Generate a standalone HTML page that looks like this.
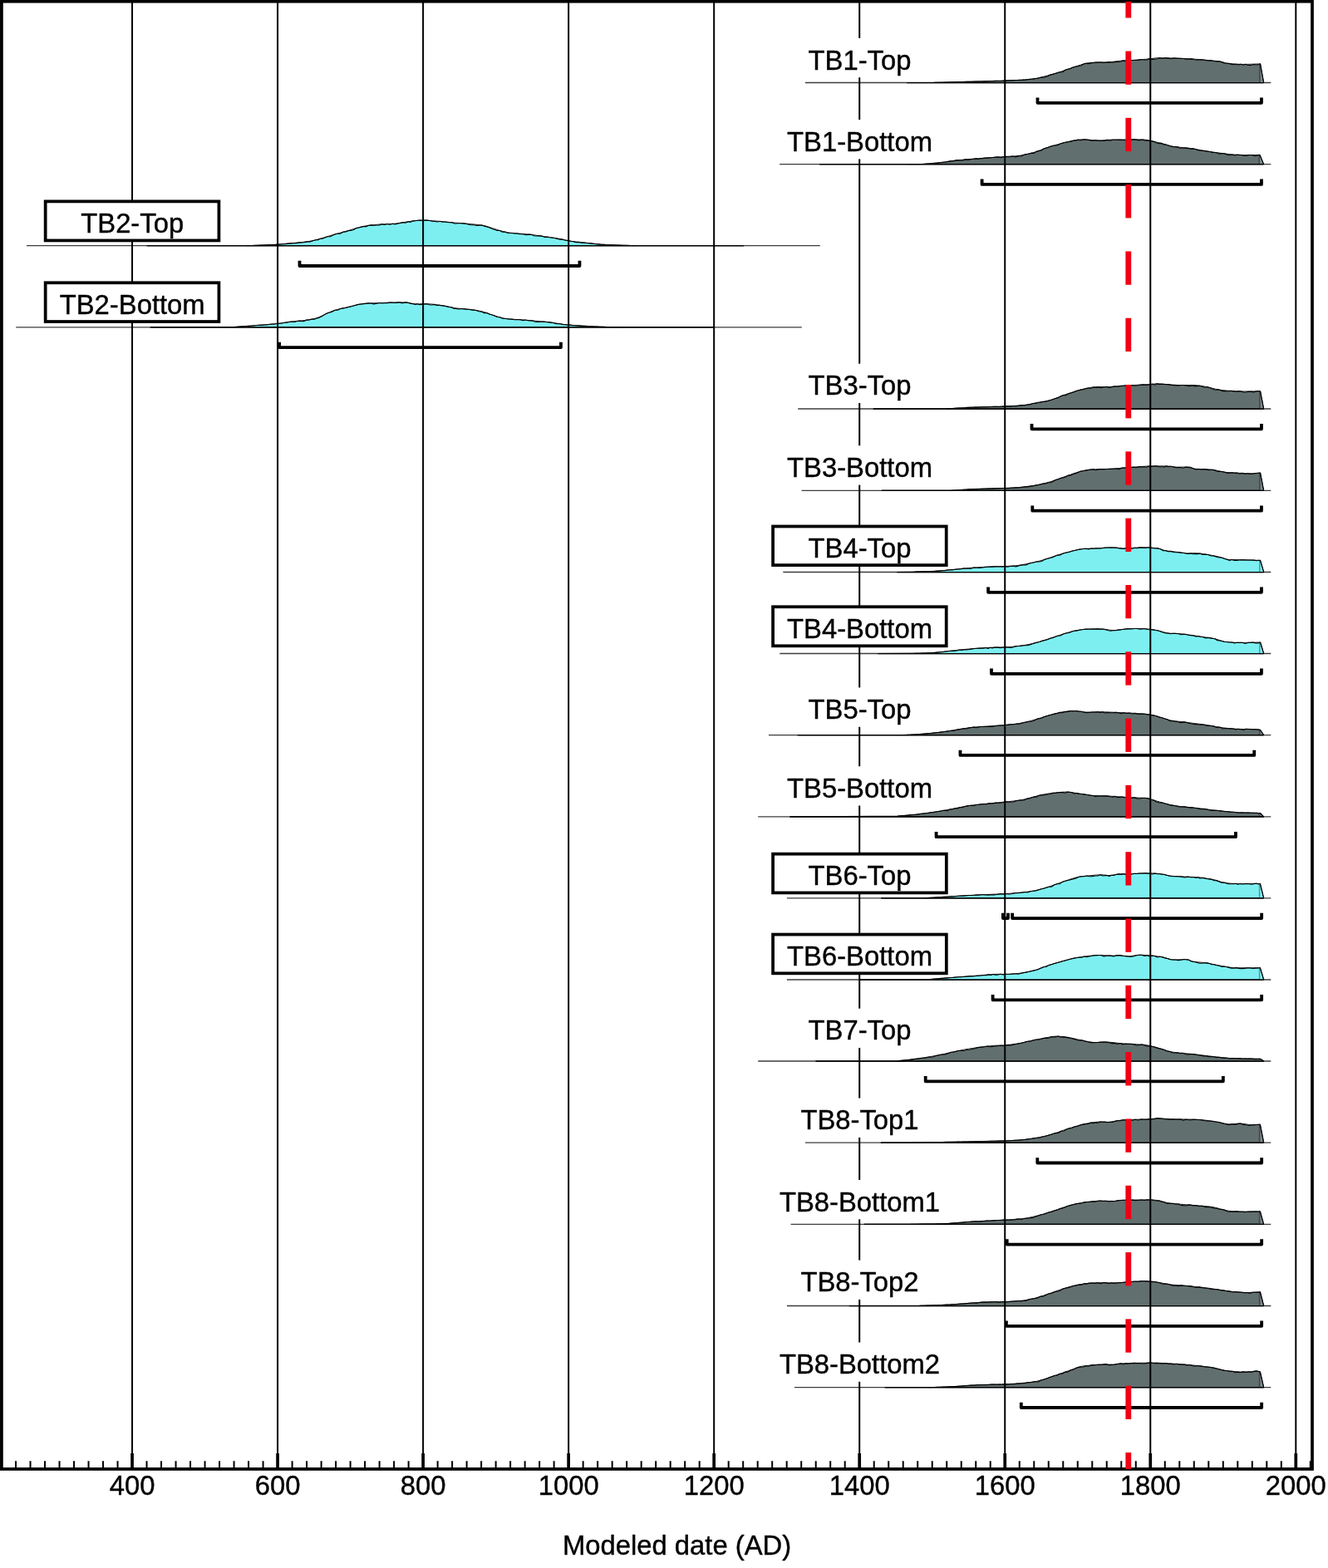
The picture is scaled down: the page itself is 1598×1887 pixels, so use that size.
<!DOCTYPE html>
<html lang="en"><head><meta charset="utf-8"><title>Modeled date (AD)</title>
<style>html,body{margin:0;padding:0;background:#fff}body{width:1598px;height:1887px;overflow:hidden}svg{display:block}text{font-family:'Liberation Sans', sans-serif;font-size:32.8px;fill:#000;stroke:#000;stroke-width:0.4px;stroke-linejoin:round}</style>
</head><body>
<svg width="1598" height="1887" viewBox="0 0 1598 1887">
<rect width="1598" height="1887" fill="#fff"/>
<g id="baselines" stroke="#3c3c3c" stroke-width="1.3" fill="none">
<path d="M968.9 99.5 H1529.3"/>
<path d="M938.1 197.6 H1529.3"/>
<path d="M32 295.7 H986.8"/>
<path d="M19.25 393.8 H964.8"/>
<path d="M960.2 492 H1529.3"/>
<path d="M964.6 590.4 H1529.3"/>
<path d="M942.3 688.5 H1529.3"/>
<path d="M938.3 786.5 H1529.3"/>
<path d="M925 884.65 H1529.3"/>
<path d="M912.2 982.9 H1529.3"/>
<path d="M946.9 1080.8 H1529.3"/>
<path d="M946.9 1179 H1529.3"/>
<path d="M912.2 1277 H1529.3"/>
<path d="M968.9 1375.2 H1529.3"/>
<path d="M951.6 1473.3 H1529.3"/>
<path d="M946.9 1571.5 H1529.3"/>
<path d="M955.9 1669.7 H1529.3"/>
</g>
<g id="curves" stroke="#000" stroke-width="1.1" stroke-linejoin="round">
<path d="M1091.5 99.5 L1122 99.5 L1123.38 99.46 L1125.09 99.41 L1127.1 99.36 L1129.39 99.3 L1131.95 99.23 L1134.73 99.19 L1137.73 99.05 L1140.92 99 L1144.27 98.88 L1147.76 98.8 L1151.37 98.67 L1155.07 98.63 L1158.84 98.46 L1162.66 98.38 L1166.5 98.24 L1170.34 98.33 L1174.15 98.07 L1177.92 97.96 L1181.62 97.94 L1185.22 97.75 L1188.7 97.84 L1192.05 97.5 L1195.22 97.64 L1198.21 97.39 L1200.99 97.47 L1203.53 97.49 L1205.81 97.46 L1207.81 97.04 L1209.5 97.17 L1214.55 96.8 L1218.68 96.66 L1222.06 96.51 L1224.84 96.43 L1227.18 96.26 L1229.21 96.53 L1231.1 96.05 L1233 96.21 L1236.13 95.79 L1239.25 95.35 L1242.36 95.03 L1245.48 94.6 L1248.6 94.32 L1250.88 93.46 L1253.72 93.11 L1256.91 92.83 L1260.3 91.91 L1263.68 90.1 L1266.88 89.36 L1269.71 88.58 L1272 87.7 L1275.19 86.73 L1278.45 86.72 L1281.69 84.31 L1284.8 83.22 L1287.7 82.75 L1290.4 81.3 L1293.69 80.29 L1297.26 79.81 L1300.79 78.92 L1303.98 77.05 L1306.5 76.25 L1309.68 76.64 L1312.91 75.84 L1316.05 75.47 L1319 75.14 L1321.67 75.06 L1324.92 74.96 L1328.41 75.57 L1331.79 75.03 L1334.7 74.65 L1337.66 75.32 L1341.17 74.67 L1344.83 74.46 L1348.24 74.21 L1351 72.88 L1353.96 73.67 L1357.05 73.3 L1360.24 72.68 L1363.5 72.44 L1365.79 72.55 L1368.74 72.38 L1372.08 71.7 L1375.52 71.7 L1378.81 72.3 L1381.66 71.17 L1383.8 70.9 L1387.07 71.37 L1389.79 71.11 L1393.2 70.75 L1395.39 69.58 L1398.25 70.56 L1401.56 69.7 L1405.11 69.88 L1408.68 70.82 L1412.05 69.92 L1415 70.02 L1417.57 70.18 L1420.54 70.26 L1423.78 70.49 L1427.18 71.17 L1430.61 71.17 L1433.97 70.86 L1437.14 71.77 L1440 72.31 L1442.69 71.86 L1445.91 71.72 L1449.47 72.31 L1453.21 73.01 L1456.95 72.76 L1460.5 73.54 L1463.69 73.88 L1466.35 73.74 L1468.3 73.93 L1472.29 75.66 L1474.5 76.07 L1476.67 76.26 L1479.49 76.61 L1482.44 77.39 L1485 77.71 L1487.42 77.18 L1490.22 77.91 L1493.26 77.25 L1496.4 78.3 L1498.7 77.28 L1501.75 78.47 L1505.23 78.41 L1508.79 77.5 L1512.08 77.96 L1514.76 77.44 L1516.5 76.9 L1520.6 99.5 Z" fill="#626f6f"/>
<path d="M1516.5 77.5 L1520.1 98.9 L1516.5 98.9 Z" fill="#7d8a8a" stroke="none"/>
<path d="M1515.8 77.5 V98.9" stroke="#454848" stroke-width="1.6" fill="none"/>
<path d="M1516.5 76.9 L1520.6 99.5" fill="none" stroke-width="1.15"/>
<path d="M1122 99.5 L1123.38 99.46 L1125.09 99.41 L1127.1 99.36 L1129.39 99.29 L1131.95 99.22 L1134.73 99.14 L1137.73 99.06 L1140.92 98.97 L1144.27 98.88 L1147.76 98.78 L1151.37 98.68 L1155.07 98.57 L1158.84 98.47 L1162.66 98.36 L1166.5 98.25 L1170.34 98.14 L1174.15 98.03 L1177.92 97.93 L1181.62 97.82 L1185.22 97.72 L1188.7 97.62 L1192.05 97.52 L1195.22 97.43 L1198.21 97.34 L1200.99 97.26 L1203.53 97.18 L1205.81 97.12 L1207.81 97.05 L1209.5 97 L1214.55 96.83 L1218.68 96.68 L1222.06 96.55 L1224.84 96.42 L1227.18 96.3 L1229.21 96.17 L1231.1 96.04 L1233 95.9 L1236.13 95.65 L1239.25 95.37 L1242.36 95.03 L1245.48 94.58 L1248.6 94 L1250.88 93.48 L1253.72 92.77 L1256.91 91.94 L1260.3 91.03 L1263.68 90.09 L1266.88 89.19 L1269.71 88.37 L1272 87.7 L1275.19 86.69 L1278.45 85.56 L1281.69 84.41 L1284.8 83.3 L1287.7 82.3 L1290.4 81.39 L1293.69 80.28 L1297.26 79.09 L1300.79 77.94 L1303.98 76.97 L1306.5 76.3 L1309.68 75.74 L1312.91 75.42 L1316.05 75.24 L1319 75.1 L1321.67 75 L1324.92 74.95 L1328.41 74.91 L1331.79 74.83 L1334.7 74.7 L1337.66 74.43 L1341.17 74.03 L1344.83 73.58 L1348.24 73.18 L1351 72.9 L1353.96 72.73 L1357.05 72.64 L1360.24 72.55 L1363.5 72.4 L1365.79 72.24 L1368.74 72.02 L1372.08 71.77 L1375.52 71.49 L1378.81 71.23 L1381.66 70.99 L1383.8 70.8 L1387.07 70.38 L1389.79 69.95 L1393.2 69.7 L1395.39 69.68 L1398.25 69.7 L1401.56 69.75 L1405.11 69.82 L1408.68 69.91 L1412.05 70.01 L1415 70.1 L1417.57 70.19 L1420.54 70.3 L1423.78 70.44 L1427.18 70.58 L1430.61 70.75 L1433.97 70.92 L1437.14 71.11 L1440 71.3 L1442.69 71.51 L1445.91 71.78 L1449.47 72.1 L1453.21 72.44 L1456.95 72.8 L1460.5 73.15 L1463.69 73.48 L1466.35 73.77 L1468.3 74 L1472.29 74.98 L1474.5 75.8 L1476.67 76.1 L1479.49 76.42 L1482.44 76.69 L1485 76.9 L1487.42 77.07 L1490.22 77.23 L1493.26 77.35 L1496.4 77.4 L1498.7 77.38 L1501.75 77.31 L1505.23 77.22 L1508.79 77.12 L1512.08 77.03 L1514.76 76.95 L1516.5 76.9" fill="none" stroke-width="0.9"/>
<path d="M1091.5 99.5 H1520.6" fill="none" stroke-width="1.25"/>
<path d="M986.4 197.6 L1091.5 197.6 L1093.37 197.6 L1096.25 197.6 L1099.75 197.6 L1103.47 197.6 L1107.02 197.59 L1110 197.51 L1112.44 197.37 L1115.25 197.17 L1118.31 196.96 L1121.45 196.66 L1124.54 196.41 L1127.44 196.15 L1130 195.78 L1132.52 195.65 L1135.32 195.26 L1138.35 195.01 L1141.51 194.4 L1144.72 193.91 L1147.91 193.59 L1151 192.87 L1153.15 192.83 L1155.7 193.06 L1158.57 192.89 L1161.68 191.87 L1164.93 192.35 L1168.24 191.74 L1171.53 191.25 L1174.71 190.84 L1177.68 191.43 L1180.38 190.46 L1182.7 190.63 L1185.45 190.01 L1188.46 190.17 L1191.66 189.76 L1194.93 189.46 L1198.18 189.16 L1201.3 188.92 L1204.22 189.71 L1206.81 189.03 L1209 188.4 L1212 188.65 L1215.1 188.82 L1218.19 187.95 L1221.19 188.84 L1223.99 188.41 L1226.5 187.58 L1229.09 188.05 L1232.07 186.28 L1235.25 185.56 L1238.43 185.02 L1241.41 184.15 L1244 184.56 L1246.59 182.58 L1249.57 181.64 L1252.75 181.23 L1255.93 179.03 L1258.91 177.92 L1261.5 177.35 L1264.11 176.35 L1267.12 175.28 L1270.34 174.94 L1273.53 174.39 L1276.49 172.67 L1279 172.02 L1282.01 171.26 L1285.47 170.69 L1289 170.12 L1292.24 168.97 L1294.8 169.29 L1297.37 168.09 L1299.9 168.97 L1302.51 167.93 L1305.3 167.92 L1307.75 168.06 L1310.96 168.62 L1314.56 169.51 L1318.18 168.74 L1321.45 169.4 L1324 169.36 L1326.68 169.18 L1329.07 169.42 L1332 168.39 L1336.3 169.16 L1338.25 168.21 L1340.81 168.23 L1343.85 168.32 L1347.26 168.34 L1350.94 168.57 L1354.77 168.76 L1358.65 168.95 L1362.46 167.88 L1366.09 167.89 L1369.43 168.61 L1372.37 168.65 L1374.8 167.95 L1376.6 168.91 L1381.41 169.42 L1383.6 169.31 L1385.77 169.77 L1388.66 170.36 L1391.87 171.99 L1394.98 172.67 L1397.6 172.38 L1400.04 174.01 L1402.79 173.89 L1405.73 175.02 L1408.71 175.93 L1411.6 176.63 L1413.97 176.56 L1416.93 176.87 L1420.25 178.21 L1423.71 178.28 L1427.08 178.12 L1430.16 178.66 L1432.7 179.23 L1435.46 178.84 L1438.49 179.46 L1441.63 180.66 L1444.73 181.14 L1447.64 181.41 L1450.2 181.63 L1452.79 182 L1455.77 182.53 L1458.95 183.35 L1462.13 183.54 L1465.11 184.19 L1467.7 185.12 L1470.29 184.63 L1473.27 184.79 L1476.45 186.13 L1479.63 186.67 L1482.61 186.06 L1485.2 187.07 L1487.83 186.4 L1490.9 186.29 L1494.17 186.72 L1497.38 187.53 L1500.31 187.09 L1502.7 186.56 L1506.24 186.5 L1510.17 187.63 L1513.67 186.89 L1515.9 186.4 L1520.6 197.6 Z" fill="#626f6f"/>
<path d="M1515.9 187 L1520.1 197 L1515.9 197 Z" fill="#7d8a8a" stroke="none"/>
<path d="M1515.2 187 V197" stroke="#454848" stroke-width="1.6" fill="none"/>
<path d="M1515.9 186.4 L1520.6 197.6" fill="none" stroke-width="1.15"/>
<path d="M1091.5 197.6 L1093.37 197.6 L1096.25 197.62 L1099.75 197.63 L1103.47 197.63 L1107.02 197.59 L1110 197.5 L1112.44 197.36 L1115.25 197.17 L1118.31 196.92 L1121.45 196.65 L1124.54 196.36 L1127.44 196.07 L1130 195.8 L1132.52 195.48 L1135.32 195.09 L1138.35 194.63 L1141.51 194.16 L1144.72 193.69 L1147.91 193.26 L1151 192.9 L1153.15 192.69 L1155.7 192.45 L1158.57 192.2 L1161.68 191.94 L1164.93 191.68 L1168.24 191.41 L1171.53 191.16 L1174.71 190.91 L1177.68 190.68 L1180.38 190.48 L1182.7 190.3 L1185.45 190.1 L1188.46 189.88 L1191.66 189.66 L1194.93 189.44 L1198.18 189.22 L1201.3 189.01 L1204.22 188.82 L1206.81 188.65 L1209 188.5 L1212 188.32 L1215.1 188.16 L1218.19 188 L1221.19 187.82 L1223.99 187.59 L1226.5 187.3 L1229.09 186.88 L1232.07 186.32 L1235.25 185.66 L1238.43 184.94 L1241.41 184.21 L1244 183.5 L1246.59 182.66 L1249.57 181.57 L1252.75 180.36 L1255.93 179.13 L1258.91 178.01 L1261.5 177.1 L1264.11 176.28 L1267.12 175.38 L1270.34 174.46 L1273.53 173.57 L1276.49 172.76 L1279 172.1 L1282.01 171.34 L1285.47 170.49 L1289 169.67 L1292.24 168.97 L1294.8 168.5 L1297.37 168.18 L1299.9 168.01 L1302.51 167.97 L1305.3 168 L1307.75 168.11 L1310.96 168.31 L1314.56 168.57 L1318.18 168.82 L1321.45 169.01 L1324 169.1 L1326.68 168.99 L1329.07 168.72 L1332 168.41 L1336.3 168.2 L1338.25 168.17 L1340.81 168.13 L1343.85 168.09 L1347.26 168.06 L1350.94 168.03 L1354.77 168 L1358.65 167.97 L1362.46 167.96 L1366.09 167.95 L1369.43 167.94 L1372.37 167.95 L1374.8 167.97 L1376.6 168 L1381.41 168.54 L1383.6 169.4 L1385.77 169.85 L1388.66 170.44 L1391.87 171.12 L1394.98 171.79 L1397.6 172.4 L1400.04 173.08 L1402.79 173.94 L1405.73 174.84 L1408.71 175.67 L1411.6 176.3 L1413.97 176.64 L1416.93 176.97 L1420.25 177.28 L1423.71 177.59 L1427.08 177.89 L1430.16 178.19 L1432.7 178.5 L1435.46 178.94 L1438.49 179.48 L1441.63 180.09 L1444.73 180.7 L1447.64 181.25 L1450.2 181.7 L1452.79 182.1 L1455.77 182.52 L1458.95 182.96 L1462.13 183.38 L1465.11 183.77 L1467.7 184.1 L1470.29 184.43 L1473.27 184.81 L1476.45 185.19 L1479.63 185.56 L1482.61 185.88 L1485.2 186.1 L1487.83 186.25 L1490.9 186.37 L1494.17 186.46 L1497.38 186.53 L1500.31 186.57 L1502.7 186.6 L1506.24 186.59 L1510.17 186.53 L1513.67 186.45 L1515.9 186.4" fill="none" stroke-width="0.9"/>
<path d="M986.4 197.6 H1520.6" fill="none" stroke-width="1.25"/>
<path d="M177 295.7 L297 295.7 L298.6 295.64 L300.84 295.55 L303.6 295.45 L306.78 295.35 L310.27 295.24 L313.97 295.1 L317.77 294.97 L321.56 294.78 L325.23 294.59 L328.69 294.43 L331.81 294.39 L334.5 294.13 L337.12 293.98 L340.05 293.8 L343.22 293.6 L346.56 293.1 L349.98 292.88 L353.42 292.67 L356.79 292.62 L360.03 291.84 L363.06 292.02 L365.79 291.69 L368.17 291.1 L370.1 290.91 L373.88 290.83 L377.18 289.53 L380.1 288.7 L382.74 288.67 L385.2 287.21 L387.87 287.12 L390.92 286.08 L394.13 284.74 L397.29 284.72 L400.2 283.18 L402.81 281.98 L405.97 281.28 L409.41 281.27 L412.91 279.12 L416.18 279.04 L419 277.79 L421.77 277.42 L424.96 276.76 L428.35 274.66 L431.74 273.92 L434.93 273.14 L437.7 272.52 L440.48 272.63 L443.68 271.26 L447.1 270.88 L450.51 271.2 L453.71 271.02 L456.5 271.07 L459.29 269.73 L462.49 270.48 L465.91 269.48 L469.32 270.17 L472.52 269.28 L475.3 270.09 L478.11 269.18 L481.37 268.47 L484.84 267.65 L488.27 268.09 L491.4 266.76 L494 267.36 L496.8 265.85 L499.78 265.74 L502.85 265.18 L505.95 265.07 L509 266.09 L511.19 265.11 L513.9 265.11 L516.95 265.49 L520.19 266.21 L523.44 266.49 L526.54 266.95 L529.31 266.33 L531.6 266.84 L534.38 266.97 L537.35 267.25 L540.39 267.77 L543.39 267.61 L546.23 268.84 L548.8 268.99 L551.53 268.77 L554.77 268.69 L558.25 268.84 L561.71 269.54 L564.88 270.55 L567.5 270.81 L570.44 270.8 L573.68 271.41 L576.96 271.19 L580.02 271.07 L582.6 272.14 L585.71 272.94 L589.15 273.97 L592.6 275.42 L595.7 276.52 L598.29 277.49 L601.37 277.52 L604.66 279.32 L607.87 279.1 L610.7 280.37 L613.13 280.57 L616.03 280.46 L619.15 280.95 L622.27 280.99 L625.17 281.77 L627.6 281.7 L630.36 282.03 L633.42 282.62 L636.6 282.11 L639.72 282.37 L642.6 283.73 L645.24 283.96 L648.48 283.6 L652 284.1 L655.52 285.45 L658.76 285.14 L661.4 285.71 L664.38 286.03 L667.69 286.47 L671.01 287.4 L674.02 288.16 L676.4 288.04 L679.34 289.02 L682.2 289.39 L685.8 290.07 L687.76 290.54 L690.34 290.62 L693.34 291.65 L696.58 291.36 L699.88 292.13 L703.06 292.1 L705.93 292.49 L708.3 292.6 L711.08 292.9 L713.95 293.27 L716.95 293.61 L720.11 293.85 L723.48 294.26 L727.1 294.4 L729.13 294.57 L731.68 294.7 L734.65 294.85 L737.93 294.86 L741.42 294.97 L745.03 295.08 L748.64 295.22 L752.16 295.31 L755.47 295.42 L758.49 295.51 L761.1 295.58 L763.2 295.65 L764.7 295.7 L894.8 295.7 Z" fill="#7deff1"/>
<path d="M297 295.7 L298.6 295.64 L300.84 295.55 L303.6 295.45 L306.78 295.34 L310.27 295.21 L313.97 295.07 L317.77 294.92 L321.56 294.76 L325.23 294.6 L328.69 294.44 L331.81 294.27 L334.5 294.1 L337.12 293.91 L340.05 293.68 L343.22 293.42 L346.56 293.12 L349.98 292.81 L353.42 292.49 L356.79 292.16 L360.03 291.84 L363.06 291.52 L365.79 291.22 L368.17 290.94 L370.1 290.7 L373.88 290.1 L377.18 289.41 L380.1 288.69 L382.74 287.97 L385.2 287.3 L387.87 286.55 L390.92 285.64 L394.13 284.65 L397.29 283.67 L400.2 282.8 L402.81 282.05 L405.97 281.16 L409.41 280.19 L412.91 279.21 L416.18 278.29 L419 277.5 L421.77 276.7 L424.96 275.75 L428.35 274.75 L431.74 273.78 L434.93 272.94 L437.7 272.3 L440.48 271.81 L443.68 271.35 L447.1 270.94 L450.51 270.56 L453.71 270.25 L456.5 270 L459.29 269.82 L462.49 269.69 L465.91 269.57 L469.32 269.46 L472.52 269.31 L475.3 269.1 L478.11 268.76 L481.37 268.28 L484.84 267.72 L488.27 267.16 L491.4 266.66 L494 266.3 L496.8 265.95 L499.78 265.59 L502.85 265.28 L505.95 265.07 L509 265 L511.19 265.06 L513.9 265.21 L516.95 265.41 L520.19 265.66 L523.44 265.92 L526.54 266.18 L529.31 266.41 L531.6 266.6 L534.38 266.84 L537.35 267.11 L540.39 267.41 L543.39 267.7 L546.23 267.97 L548.8 268.2 L551.53 268.42 L554.77 268.67 L558.25 268.94 L561.71 269.21 L564.88 269.46 L567.5 269.7 L570.44 269.98 L573.68 270.29 L576.96 270.65 L580.02 271.05 L582.6 271.5 L585.71 272.34 L589.15 273.49 L592.6 274.69 L595.7 275.7 L598.29 276.48 L601.37 277.41 L604.66 278.35 L607.87 279.19 L610.7 279.8 L613.13 280.14 L616.03 280.43 L619.15 280.68 L622.27 280.9 L625.17 281.1 L627.6 281.3 L630.36 281.55 L633.42 281.84 L636.6 282.14 L639.72 282.46 L642.6 282.8 L645.24 283.16 L648.48 283.63 L652 284.16 L655.52 284.7 L658.76 285.2 L661.4 285.6 L664.38 286.04 L667.69 286.53 L671.01 287.03 L674.02 287.5 L676.4 287.9 L679.34 288.6 L682.2 289.38 L685.8 290.1 L687.76 290.36 L690.34 290.67 L693.34 291.02 L696.58 291.37 L699.88 291.72 L703.06 292.06 L705.93 292.35 L708.3 292.6 L711.08 292.9 L713.95 293.23 L716.95 293.56 L720.11 293.88 L723.48 294.16 L727.1 294.4 L729.13 294.5 L731.68 294.61 L734.65 294.72 L737.93 294.84 L741.42 294.96 L745.03 295.08 L748.64 295.2 L752.16 295.31 L755.47 295.41 L758.49 295.5 L761.1 295.58 L763.2 295.65 L764.7 295.7" fill="none" stroke-width="0.9"/>
<path d="M177 295.7 H894.8" fill="none" stroke-width="1.25"/>
<path d="M181 393.8 L278 393.8 L279.72 393.67 L282.25 393.51 L285.4 393.27 L288.96 393.01 L292.74 392.7 L296.57 392.44 L300.23 392.2 L303.54 391.95 L306.3 391.68 L308.92 391.5 L311.86 391.3 L315.02 391.38 L318.28 391.01 L321.55 390.94 L324.73 390.26 L327.69 390.04 L330.35 389.96 L332.6 389.55 L335.77 389.21 L339.15 388.96 L342.56 388.2 L345.86 387.85 L348.86 387.26 L351.4 386.98 L354.31 387.53 L357.47 386.49 L360.69 386.11 L363.74 386.8 L366.4 386.35 L369.06 385.12 L372.11 384.84 L375.33 384.12 L378.49 384.17 L381.4 382.87 L384.01 382.34 L387.16 380.86 L390.61 378.47 L394.1 376.78 L397.38 375.95 L400.2 375.09 L402.99 373.26 L406.19 373.32 L409.61 371.58 L413.02 370.9 L416.22 370.56 L419 369.43 L421.69 369.08 L424.68 368.22 L427.88 367.18 L431.18 366.41 L434.49 366 L437.7 365.63 L440.09 365.42 L443 364.91 L446.29 364.99 L449.81 365.86 L453.42 365.17 L456.97 364.56 L460.34 364.97 L463.36 364.47 L465.9 364.62 L468.62 364.14 L471.63 364.03 L474.8 364.58 L478 364.13 L481.08 363.79 L483.93 365.05 L486.42 364.26 L488.4 363.87 L491.54 364.48 L494.33 365.57 L496.98 365.62 L499.7 366.35 L501.96 365.77 L504.81 366.59 L507.96 366.13 L511.16 365.81 L514.13 365.85 L516.6 366.69 L519.38 367.07 L522.48 366.36 L525.69 367.54 L528.8 367.22 L531.6 367.87 L534.01 367.92 L536.85 368.64 L539.92 369.4 L543.05 369.71 L546.07 371.34 L548.8 371.45 L551.29 372.07 L554.3 371.65 L557.6 371.67 L560.99 372.12 L564.23 372.24 L567.1 372.86 L569.4 373.09 L572.87 373.43 L576.38 374.76 L579.69 375.27 L582.6 376.65 L585.6 376.6 L589.06 378.18 L592.57 379.06 L595.7 380.3 L598.27 381.5 L601.3 381.79 L604.55 383.29 L607.77 383.54 L610.7 383.74 L613.19 383.97 L616.07 384.15 L619.25 384.76 L622.62 384.5 L626.07 384.71 L629.5 385.82 L631.61 384.98 L634.2 385.49 L637.15 386.05 L640.37 385.82 L643.74 387.22 L647.16 387.33 L650.53 387.18 L653.75 387.07 L656.7 387.42 L659.29 387.66 L661.4 387.88 L664.79 388.26 L668.16 389.34 L671.46 389.69 L674.6 389.77 L677.54 390.73 L680.2 390.71 L682.9 391.22 L685.91 391.16 L689.13 391.64 L692.46 391.65 L695.78 391.88 L699 392.16 L701.39 392.34 L704.28 392.41 L707.55 392.67 L711.05 392.73 L714.64 393.01 L718.18 393.06 L721.53 393.25 L724.55 393.34 L727.1 393.4 L729.91 393.48 L733.12 393.55 L736.53 393.63 L739.95 393.67 L743.21 393.72 L746.09 393.75 L748.42 393.78 L750 393.8 L858.75 393.8 Z" fill="#7deff1"/>
<path d="M278 393.8 L279.72 393.67 L282.25 393.49 L285.4 393.26 L288.96 392.99 L292.74 392.71 L296.57 392.43 L300.23 392.16 L303.54 391.91 L306.3 391.7 L308.92 391.5 L311.86 391.28 L315.02 391.05 L318.28 390.8 L321.55 390.55 L324.73 390.3 L327.69 390.05 L330.35 389.82 L332.6 389.6 L335.77 389.23 L339.15 388.77 L342.56 388.27 L345.86 387.78 L348.86 387.34 L351.4 387 L354.31 386.69 L357.47 386.4 L360.69 386.12 L363.74 385.82 L366.4 385.5 L369.06 385.13 L372.11 384.7 L375.33 384.17 L378.49 383.51 L381.4 382.7 L384.01 381.67 L387.16 380.22 L390.61 378.54 L394.1 376.85 L397.38 375.34 L400.2 374.2 L402.99 373.32 L406.19 372.46 L409.61 371.63 L413.02 370.85 L416.22 370.13 L419 369.5 L421.69 368.84 L424.68 368.07 L427.88 367.27 L431.18 366.51 L434.49 365.86 L437.7 365.4 L440.09 365.19 L443 365 L446.29 364.85 L449.81 364.72 L453.42 364.61 L456.97 364.52 L460.34 364.44 L463.36 364.37 L465.9 364.3 L468.62 364.22 L471.63 364.13 L474.8 364.03 L478 363.95 L481.08 363.89 L483.93 363.85 L486.42 363.85 L488.4 363.9 L491.54 364.25 L494.33 364.83 L496.98 365.42 L499.7 365.8 L501.96 365.87 L504.81 365.86 L507.96 365.81 L511.16 365.75 L514.13 365.73 L516.6 365.8 L519.38 366.02 L522.48 366.35 L525.69 366.75 L528.8 367.18 L531.6 367.6 L534.01 368.02 L536.85 368.57 L539.92 369.19 L543.05 369.8 L546.07 370.36 L548.8 370.8 L551.29 371.11 L554.3 371.42 L557.6 371.73 L560.99 372.03 L564.23 372.33 L567.1 372.62 L569.4 372.9 L572.87 373.43 L576.38 374.07 L579.69 374.77 L582.6 375.5 L585.6 376.49 L589.06 377.8 L592.57 379.14 L595.7 380.2 L598.27 380.94 L601.3 381.76 L604.55 382.58 L607.77 383.29 L610.7 383.8 L613.19 384.06 L616.07 384.24 L619.25 384.38 L622.62 384.51 L626.07 384.67 L629.5 384.9 L631.61 385.08 L634.2 385.3 L637.15 385.56 L640.37 385.85 L643.74 386.16 L647.16 386.48 L650.53 386.8 L653.75 387.11 L656.7 387.41 L659.29 387.67 L661.4 387.9 L664.79 388.33 L668.16 388.81 L671.46 389.32 L674.6 389.82 L677.54 390.26 L680.2 390.6 L682.9 390.88 L685.91 391.15 L689.13 391.42 L692.46 391.67 L695.78 391.9 L699 392.1 L701.39 392.24 L704.28 392.39 L707.55 392.55 L711.05 392.72 L714.64 392.89 L718.18 393.05 L721.53 393.19 L724.55 393.31 L727.1 393.4 L729.91 393.48 L733.12 393.55 L736.53 393.61 L739.95 393.67 L743.21 393.71 L746.09 393.75 L748.42 393.78 L750 393.8" fill="none" stroke-width="0.9"/>
<path d="M181 393.8 H858.75" fill="none" stroke-width="1.25"/>
<path d="M1051 492 L1139 492 L1140.64 491.91 L1142.97 491.76 L1145.85 491.58 L1149.15 491.36 L1152.75 491.1 L1156.49 490.98 L1160.26 490.78 L1163.93 490.42 L1167.35 490.34 L1170.4 490.23 L1172.77 490.15 L1175.5 490.11 L1178.51 490.06 L1181.74 489.77 L1185.13 489.73 L1188.6 489.75 L1192.09 489.47 L1195.52 489.38 L1198.83 489.31 L1201.95 489.53 L1204.82 489.18 L1207.35 489.09 L1209.5 488.97 L1212.69 488.82 L1215.96 489.15 L1219.23 488.46 L1222.42 488.84 L1225.47 488.23 L1228.3 487.85 L1230.84 487.58 L1233 487.92 L1236.22 486.97 L1239.54 487.03 L1242.81 485.47 L1245.88 485.51 L1248.6 484.75 L1251.43 484.57 L1254.73 483.53 L1258.17 483.34 L1261.47 482.32 L1264.3 481.47 L1267.06 480.51 L1270.21 479.55 L1273.54 478.6 L1276.84 476.55 L1279.9 475.43 L1282.29 475.68 L1285.2 473.98 L1288.43 472.95 L1291.77 471.96 L1295 470.49 L1297.91 469.83 L1300.3 469.1 L1303.33 468.79 L1306.54 467.66 L1309.81 467.21 L1312.98 467.19 L1315.9 466.01 L1318.52 466.36 L1321.64 465.88 L1325.04 466.67 L1328.49 465.78 L1331.79 465.55 L1334.7 466.57 L1337.18 465.98 L1340.01 465.1 L1343.09 465.01 L1346.29 464.9 L1349.52 464.34 L1352.66 464.16 L1355.6 463.92 L1358.12 463.76 L1361.2 463.57 L1364.66 464.31 L1368.33 464.07 L1372.04 463.27 L1375.62 462.9 L1378.89 463.58 L1381.67 463.19 L1383.8 462.55 L1387.08 462.25 L1389.54 463.19 L1391.88 461.78 L1394.8 462.41 L1396.89 462.34 L1399.6 462.18 L1402.74 462.67 L1406.11 462.62 L1409.53 463.46 L1412.82 463.67 L1415.77 463.89 L1418.2 463.88 L1421.26 463.46 L1424.65 463.45 L1428.14 464.13 L1431.52 464.64 L1434.55 463.93 L1437 464.61 L1440.18 464.66 L1443.41 464.26 L1446.55 464.93 L1449.5 466.17 L1452.22 465.58 L1455.57 466.43 L1459.13 468.1 L1462.48 469.26 L1465.2 468.61 L1468.15 469.48 L1471.3 470.67 L1474.52 470.52 L1477.7 471.06 L1480.17 470.34 L1483.25 470.62 L1486.67 471.31 L1490.18 470.81 L1493.51 470.98 L1496.4 471.97 L1499 471.98 L1502.18 471.27 L1505.64 471.37 L1509.09 471.84 L1512.25 470.77 L1514.81 470.77 L1516.5 470.8 L1520.6 492 Z" fill="#626f6f"/>
<path d="M1516.5 471.4 L1520.1 491.4 L1516.5 491.4 Z" fill="#7d8a8a" stroke="none"/>
<path d="M1515.8 471.4 V491.4" stroke="#454848" stroke-width="1.6" fill="none"/>
<path d="M1516.5 470.8 L1520.6 492" fill="none" stroke-width="1.15"/>
<path d="M1139 492 L1140.64 491.9 L1142.97 491.74 L1145.85 491.55 L1149.15 491.34 L1152.75 491.1 L1156.49 490.87 L1160.26 490.64 L1163.93 490.43 L1167.35 490.24 L1170.4 490.1 L1172.77 490.01 L1175.5 489.92 L1178.51 489.83 L1181.74 489.75 L1185.13 489.66 L1188.6 489.58 L1192.09 489.49 L1195.52 489.41 L1198.83 489.33 L1201.95 489.25 L1204.82 489.17 L1207.35 489.08 L1209.5 489 L1212.69 488.85 L1215.96 488.69 L1219.23 488.5 L1222.42 488.3 L1225.47 488.09 L1228.3 487.86 L1230.84 487.63 L1233 487.4 L1236.22 486.91 L1239.54 486.26 L1242.81 485.55 L1245.88 484.86 L1248.6 484.3 L1251.43 483.82 L1254.73 483.31 L1258.17 482.77 L1261.47 482.17 L1264.3 481.5 L1267.06 480.59 L1270.21 479.36 L1273.54 477.99 L1276.84 476.65 L1279.9 475.5 L1282.29 474.68 L1285.2 473.71 L1288.43 472.65 L1291.77 471.58 L1295 470.56 L1297.91 469.68 L1300.3 469 L1303.33 468.22 L1306.54 467.45 L1309.81 466.76 L1312.98 466.19 L1315.9 465.8 L1318.52 465.63 L1321.64 465.57 L1325.04 465.56 L1328.49 465.58 L1331.79 465.57 L1334.7 465.5 L1337.18 465.36 L1340.01 465.17 L1343.09 464.94 L1346.29 464.69 L1349.52 464.44 L1352.66 464.2 L1355.6 464 L1358.12 463.85 L1361.2 463.66 L1364.66 463.46 L1368.33 463.25 L1372.04 463.05 L1375.62 462.85 L1378.89 462.67 L1381.67 462.52 L1383.8 462.4 L1387.08 462.18 L1389.54 461.99 L1391.88 461.88 L1394.8 461.9 L1396.89 462 L1399.6 462.18 L1402.74 462.41 L1406.11 462.68 L1409.53 462.94 L1412.82 463.18 L1415.77 463.38 L1418.2 463.5 L1421.26 463.56 L1424.65 463.55 L1428.14 463.5 L1431.52 463.45 L1434.55 463.44 L1437 463.5 L1440.18 463.74 L1443.41 464.12 L1446.55 464.59 L1449.5 465.1 L1452.22 465.68 L1455.57 466.47 L1459.13 467.34 L1462.48 468.13 L1465.2 468.7 L1468.15 469.18 L1471.3 469.59 L1474.52 469.93 L1477.7 470.2 L1480.17 470.36 L1483.25 470.53 L1486.67 470.69 L1490.18 470.83 L1493.51 470.93 L1496.4 471 L1499 471.02 L1502.18 471 L1505.64 470.96 L1509.09 470.92 L1512.25 470.87 L1514.81 470.82 L1516.5 470.8" fill="none" stroke-width="0.9"/>
<path d="M1051 492 H1520.6" fill="none" stroke-width="1.25"/>
<path d="M1061 590.4 L1143.8 590.4 L1145.36 590.3 L1147.58 590.13 L1150.33 589.97 L1153.47 589.71 L1156.87 589.58 L1160.4 589.2 L1163.92 589.05 L1167.3 588.8 L1170.4 588.67 L1172.65 588.51 L1175.32 588.6 L1178.33 588.51 L1181.58 588.34 L1185.02 588.21 L1188.56 587.98 L1192.12 588.13 L1195.62 587.84 L1198.98 587.7 L1202.13 587.63 L1204.98 587.56 L1207.47 587.44 L1209.5 587.47 L1213.21 587.6 L1216.65 587.24 L1219.84 586.97 L1222.82 586.78 L1225.63 586.94 L1228.3 586.59 L1230.81 586.18 L1233.76 585.67 L1236.97 585.92 L1240.24 585.14 L1243.39 584.99 L1246.24 583.91 L1248.6 583.82 L1251.68 583.03 L1255 582.15 L1258.35 582.02 L1261.53 580.76 L1264.3 580.79 L1267.06 579.5 L1270.21 577.5 L1273.54 576.77 L1276.84 575.19 L1279.9 574.83 L1282.29 574.03 L1285.2 572.17 L1288.43 572.09 L1291.77 570.19 L1295 569.62 L1297.91 568.3 L1300.3 567.13 L1303.33 566.79 L1306.54 566.14 L1309.81 565.42 L1312.98 565.09 L1315.9 564.81 L1318.52 565.7 L1321.64 564.86 L1325.04 564.56 L1328.49 564.62 L1331.79 564.47 L1334.7 564.41 L1337.19 564.33 L1340.05 564.21 L1343.15 563.99 L1346.38 564.63 L1349.61 563.17 L1352.73 563.16 L1355.6 562.78 L1357.96 563.66 L1360.74 562.48 L1363.83 562.15 L1367.1 562.82 L1370.44 561.65 L1373.74 561.84 L1376.88 561.77 L1379.74 562.15 L1382.2 561.1 L1384.95 561.34 L1388.07 560.95 L1391.41 560.76 L1394.81 561.69 L1398.1 561.8 L1401.12 561.9 L1403.7 560.86 L1405.7 561.69 L1409.3 561.22 L1412.06 561.68 L1415.1 562.69 L1417.4 562.59 L1420.49 562.47 L1423.93 563.2 L1427.33 562.1 L1430.26 562.43 L1432.3 562.88 L1434.41 563.23 L1437 564.24 L1439.07 565.15 L1442.02 564.44 L1445.53 565.04 L1449.3 564.6 L1452.99 565.37 L1456.3 565.76 L1458.9 565.23 L1462.06 566.27 L1465.41 567.55 L1468.74 567.44 L1471.84 567.74 L1474.5 568.55 L1477.11 569.49 L1480.03 569.11 L1483.06 568.81 L1485.99 569.42 L1488.6 569.14 L1491.4 570.29 L1494.77 569.39 L1498.31 570.43 L1501.62 569.83 L1504.3 570.34 L1507.55 570.29 L1511.18 569.45 L1514.43 569.26 L1516.5 569.1 L1520.6 590.4 Z" fill="#626f6f"/>
<path d="M1516.5 569.7 L1520.1 589.8 L1516.5 589.8 Z" fill="#7d8a8a" stroke="none"/>
<path d="M1515.8 569.7 V589.8" stroke="#454848" stroke-width="1.6" fill="none"/>
<path d="M1516.5 569.1 L1520.6 590.4" fill="none" stroke-width="1.15"/>
<path d="M1143.8 590.4 L1145.36 590.29 L1147.58 590.12 L1150.33 589.92 L1153.47 589.68 L1156.87 589.44 L1160.4 589.19 L1163.92 588.96 L1167.3 588.76 L1170.4 588.6 L1172.65 588.51 L1175.32 588.41 L1178.33 588.31 L1181.58 588.21 L1185.02 588.11 L1188.56 588.01 L1192.12 587.92 L1195.62 587.82 L1198.98 587.73 L1202.13 587.64 L1204.98 587.55 L1207.47 587.47 L1209.5 587.4 L1213.21 587.25 L1216.65 587.09 L1219.84 586.93 L1222.82 586.75 L1225.63 586.54 L1228.3 586.3 L1230.81 586.03 L1233.76 585.67 L1236.97 585.26 L1240.24 584.81 L1243.39 584.35 L1246.24 583.91 L1248.6 583.5 L1251.68 582.87 L1255 582.1 L1258.35 581.26 L1261.53 580.4 L1264.3 579.6 L1267.06 578.71 L1270.21 577.6 L1273.54 576.39 L1276.84 575.19 L1279.9 574.1 L1282.29 573.26 L1285.2 572.22 L1288.43 571.08 L1291.77 569.91 L1295 568.82 L1297.91 567.88 L1300.3 567.2 L1303.33 566.53 L1306.54 565.97 L1309.81 565.52 L1312.98 565.16 L1315.9 564.9 L1318.52 564.75 L1321.64 564.67 L1325.04 564.62 L1328.49 564.57 L1331.79 564.51 L1334.7 564.4 L1337.19 564.25 L1340.05 564.04 L1343.15 563.8 L1346.38 563.53 L1349.61 563.27 L1352.73 563.02 L1355.6 562.8 L1357.96 562.63 L1360.74 562.42 L1363.83 562.19 L1367.1 561.94 L1370.44 561.7 L1373.74 561.47 L1376.88 561.27 L1379.74 561.11 L1382.2 561 L1384.95 560.93 L1388.07 560.88 L1391.41 560.86 L1394.81 560.86 L1398.1 560.87 L1401.12 560.9 L1403.7 560.95 L1405.7 561 L1409.3 561.32 L1412.06 561.78 L1415.1 562.1 L1417.4 562.13 L1420.49 562.11 L1423.93 562.06 L1427.33 562.01 L1430.26 562.02 L1432.3 562.1 L1434.41 563.05 L1437 564.1 L1439.07 564.26 L1442.02 564.4 L1445.53 564.53 L1449.3 564.66 L1452.99 564.81 L1456.3 564.98 L1458.9 565.2 L1462.06 565.69 L1465.41 566.38 L1468.74 567.15 L1471.84 567.83 L1474.5 568.3 L1477.11 568.56 L1480.03 568.74 L1483.06 568.88 L1485.99 568.98 L1488.6 569.1 L1491.4 569.27 L1494.77 569.47 L1498.31 569.68 L1501.62 569.84 L1504.3 569.9 L1507.55 569.79 L1511.18 569.54 L1514.43 569.27 L1516.5 569.1" fill="none" stroke-width="0.9"/>
<path d="M1061 590.4 H1520.6" fill="none" stroke-width="1.25"/>
<path d="M1079.6 688.5 L1100 688.2 L1101.67 688.14 L1104.06 688.05 L1107.02 688.02 L1110.42 687.84 L1114.09 687.7 L1117.88 687.56 L1121.65 687.44 L1125.24 687.35 L1128.51 687.08 L1131.3 686.89 L1133.98 686.67 L1136.96 686.65 L1140.16 686.1 L1143.52 685.75 L1146.95 685.83 L1150.38 685.28 L1153.74 684.97 L1156.94 684.64 L1159.92 683.98 L1162.6 684.21 L1165.34 684.31 L1168.46 684.12 L1171.86 683.09 L1175.42 683.21 L1179.03 683.41 L1182.58 683.06 L1185.96 682.39 L1189.04 682.2 L1191.73 682.1 L1193.9 682.11 L1197.52 681.86 L1200.89 682.05 L1204.01 682.02 L1206.88 682.08 L1209.5 681.65 L1212.33 682.31 L1215.63 681.45 L1219.07 681.2 L1222.37 681.86 L1225.2 681.21 L1228.03 680.34 L1231.3 679.67 L1234.71 679.95 L1237.98 678.19 L1240.8 677.44 L1243.62 676.93 L1246.89 676 L1250.3 676.06 L1253.57 675.5 L1256.4 673.51 L1259.23 672.59 L1262.53 671.74 L1265.97 670.94 L1269.27 669.46 L1272.1 668.13 L1274.94 668.3 L1278.25 666.47 L1281.7 665.31 L1284.96 664.69 L1287.7 663.96 L1290.29 663.05 L1293.17 662.51 L1296.17 661.71 L1299.11 661.15 L1301.8 660.82 L1304.18 660.42 L1307 660.41 L1310.09 660.85 L1313.24 660.07 L1316.28 660.32 L1319 659.81 L1321.5 659.97 L1324.53 660.02 L1327.86 659.42 L1331.25 659.05 L1334.46 658.97 L1337.26 659.12 L1339.4 659.22 L1342.94 659.03 L1346 659.66 L1349.4 659.91 L1351.84 660.58 L1355.05 659.76 L1358.68 660.7 L1362.32 660.29 L1365.62 659.23 L1368.2 659.79 L1371.45 658.87 L1374.77 659.11 L1377.93 659.45 L1380.7 659.07 L1383.65 658.87 L1387.11 659.75 L1390.48 659.94 L1393.2 659.89 L1396.38 660.67 L1399.7 662.69 L1402.6 662.6 L1405.41 663.75 L1408.64 663.39 L1412 664.52 L1414.52 664.78 L1417.79 664.59 L1421.36 665.16 L1424.78 665.48 L1427.6 666.23 L1430.11 666.58 L1432.83 665.94 L1435.71 666.74 L1438.69 666.43 L1441.7 666.61 L1443.96 666.01 L1446.83 667.52 L1450.1 667.15 L1453.57 667.49 L1457.02 668.84 L1460.25 668.94 L1463.05 669.87 L1465.2 670.6 L1468.57 670.83 L1471.64 671.59 L1474.42 672.67 L1476.9 673.25 L1479.3 674.59 L1481.94 673.53 L1484.98 674.33 L1488.6 674.38 L1490.82 674.07 L1493.82 673.86 L1497.35 673.75 L1501.18 674.03 L1505.07 674.03 L1508.79 674.09 L1512.09 674.7 L1514.74 674.3 L1516.5 674.4 L1520.6 688.5 Z" fill="#7deff1"/>
<path d="M1516.5 675 L1520.1 687.9 L1516.5 687.9 Z" fill="#86f6f8" stroke="none"/>
<path d="M1515.8 675 V687.9" stroke="#4a9ab0" stroke-width="1.6" fill="none"/>
<path d="M1516.5 674.4 L1520.6 688.5" fill="none" stroke-width="1.15"/>
<path d="M1100 688.2 L1101.67 688.14 L1104.06 688.05 L1107.02 687.95 L1110.42 687.84 L1114.09 687.71 L1117.88 687.56 L1121.65 687.41 L1125.24 687.24 L1128.51 687.07 L1131.3 686.9 L1133.98 686.69 L1136.96 686.42 L1140.16 686.1 L1143.52 685.75 L1146.95 685.38 L1150.38 685.01 L1153.74 684.65 L1156.94 684.32 L1159.92 684.03 L1162.6 683.8 L1165.34 683.59 L1168.46 683.38 L1171.86 683.15 L1175.42 682.93 L1179.03 682.71 L1182.58 682.51 L1185.96 682.32 L1189.04 682.15 L1191.73 682.01 L1193.9 681.9 L1197.52 681.76 L1200.89 681.68 L1204.01 681.64 L1206.88 681.59 L1209.5 681.5 L1212.33 681.36 L1215.63 681.18 L1219.07 680.96 L1222.37 680.7 L1225.2 680.4 L1228.03 679.98 L1231.3 679.41 L1234.71 678.76 L1237.98 678.1 L1240.8 677.5 L1243.62 676.87 L1246.89 676.09 L1250.3 675.25 L1253.57 674.39 L1256.4 673.6 L1259.23 672.69 L1262.53 671.54 L1265.97 670.31 L1269.27 669.14 L1272.1 668.2 L1274.94 667.34 L1278.25 666.37 L1281.7 665.4 L1284.96 664.52 L1287.7 663.8 L1290.29 663.14 L1293.17 662.43 L1296.17 661.73 L1299.11 661.13 L1301.8 660.7 L1304.18 660.48 L1307 660.32 L1310.09 660.2 L1313.24 660.1 L1316.28 660.01 L1319 659.9 L1321.5 659.76 L1324.53 659.57 L1327.86 659.36 L1331.25 659.15 L1334.46 658.97 L1337.26 658.84 L1339.4 658.8 L1342.94 659.11 L1346 659.67 L1349.4 660 L1351.84 659.96 L1355.05 659.82 L1358.68 659.62 L1362.32 659.41 L1365.62 659.23 L1368.2 659.1 L1371.45 658.97 L1374.77 658.85 L1377.93 658.78 L1380.7 658.8 L1383.65 658.94 L1387.11 659.19 L1390.48 659.52 L1393.2 659.9 L1396.38 660.74 L1399.7 661.86 L1402.6 662.7 L1405.41 663.12 L1408.64 663.45 L1412 663.8 L1414.52 664.14 L1417.79 664.61 L1421.36 665.1 L1424.78 665.53 L1427.6 665.8 L1430.11 665.85 L1432.83 665.77 L1435.71 665.65 L1438.69 665.63 L1441.7 665.8 L1443.96 666.08 L1446.83 666.49 L1450.1 667 L1453.57 667.57 L1457.02 668.16 L1460.25 668.74 L1463.05 669.27 L1465.2 669.7 L1468.57 670.61 L1471.64 671.68 L1474.42 672.66 L1476.9 673.3 L1479.3 673.55 L1481.94 673.59 L1484.98 673.56 L1488.6 673.6 L1490.82 673.66 L1493.82 673.75 L1497.35 673.85 L1501.18 673.96 L1505.07 674.07 L1508.79 674.18 L1512.09 674.27 L1514.74 674.35 L1516.5 674.4" fill="none" stroke-width="0.9"/>
<path d="M1079.6 688.5 H1520.6" fill="none" stroke-width="1.25"/>
<path d="M1056.6 786.5 L1100 786.32 L1101.57 786.28 L1103.82 786.24 L1106.61 786.21 L1109.8 786.14 L1113.22 786.06 L1116.75 785.89 L1120.22 785.83 L1123.5 785.55 L1125.65 785.36 L1128.19 785.09 L1131.05 784.76 L1134.17 784.67 L1137.49 784.02 L1140.92 783.72 L1144.41 783.24 L1147.88 783.33 L1151.26 782.97 L1154.49 782.09 L1157.51 782.39 L1160.23 781.79 L1162.6 781.91 L1165.58 781.77 L1168.82 781.11 L1172.24 780.55 L1175.75 780.27 L1179.27 779.98 L1182.71 780.11 L1185.97 779.57 L1188.99 780.46 L1191.66 779.23 L1193.9 779.9 L1197.24 779.01 L1200.55 779.13 L1203.8 779.63 L1206.92 778.99 L1209.87 778.84 L1212.6 778.8 L1215.12 779.47 L1218.08 779.21 L1221.31 777.89 L1224.6 777.5 L1227.77 777.4 L1230.63 776.98 L1233 776.78 L1236.06 776.81 L1239.36 775.89 L1242.69 774.66 L1245.84 773.63 L1248.6 772.91 L1251.33 772.24 L1254.43 771.14 L1257.72 770.41 L1261.07 769.46 L1264.3 767.98 L1266.58 767.65 L1269.39 766.42 L1272.57 765.23 L1275.93 765.05 L1279.29 763.07 L1282.49 761.95 L1285.35 761.8 L1287.7 761.01 L1290.49 759.7 L1293.41 759.08 L1296.38 758.92 L1299.33 758 L1302.19 757.68 L1304.9 757.2 L1307.51 757.05 L1310.7 757.18 L1314.23 757.04 L1317.86 757.08 L1321.32 756.86 L1324.39 757.34 L1326.8 757.01 L1330.24 757.75 L1333.55 758.68 L1336.8 759.21 L1340 758.5 L1342.5 758.73 L1345.56 758.1 L1348.96 757.83 L1352.46 757.2 L1355.82 756.87 L1358.8 756.85 L1361.48 757.04 L1364.71 756.43 L1368.25 756.43 L1371.86 757.18 L1375.3 756.64 L1378.33 756.8 L1380.7 757.43 L1384.12 757.82 L1387.42 757.91 L1390.49 758.56 L1393.2 758.8 L1396.03 759.7 L1399.29 761 L1402.63 761.99 L1405.7 761.94 L1408.32 762.76 L1411.47 762.29 L1414.88 762.37 L1418.28 762.79 L1421.4 763.73 L1423.75 763.36 L1426.58 763.33 L1429.7 764.23 L1432.95 764.63 L1436.15 765.01 L1439.12 766.1 L1441.7 765.55 L1444.31 766.21 L1447.36 766.52 L1450.65 767.91 L1453.96 767.34 L1457.1 767.9 L1459.85 768.44 L1462 768.74 L1464.98 770.78 L1467.74 770.86 L1470.37 771.43 L1473 772.18 L1475.58 772.46 L1478.82 772.81 L1482.33 773.04 L1485.72 773.85 L1488.6 773.3 L1491.48 773.41 L1494.86 773.35 L1498.37 774.45 L1501.64 773.41 L1504.3 773.22 L1507.55 773.14 L1511.18 773.85 L1514.43 773.85 L1516.5 773 L1520.6 786.5 Z" fill="#7deff1"/>
<path d="M1516.5 773.6 L1520.1 785.9 L1516.5 785.9 Z" fill="#86f6f8" stroke="none"/>
<path d="M1515.8 773.6 V785.9" stroke="#4a9ab0" stroke-width="1.6" fill="none"/>
<path d="M1516.5 773 L1520.6 786.5" fill="none" stroke-width="1.15"/>
<path d="M1100 786.3 L1101.57 786.26 L1103.82 786.22 L1106.61 786.18 L1109.8 786.11 L1113.22 786.02 L1116.75 785.89 L1120.22 785.72 L1123.5 785.5 L1125.65 785.31 L1128.19 785.06 L1131.05 784.76 L1134.17 784.42 L1137.49 784.05 L1140.92 783.66 L1144.41 783.27 L1147.88 782.87 L1151.26 782.49 L1154.49 782.13 L1157.51 781.81 L1160.23 781.52 L1162.6 781.3 L1165.58 781.05 L1168.82 780.79 L1172.24 780.54 L1175.75 780.29 L1179.27 780.06 L1182.71 779.84 L1185.97 779.64 L1188.99 779.47 L1191.66 779.32 L1193.9 779.2 L1197.24 779.08 L1200.55 779.03 L1203.8 779.01 L1206.92 779 L1209.87 778.94 L1212.6 778.8 L1215.12 778.59 L1218.08 778.3 L1221.31 777.94 L1224.6 777.55 L1227.77 777.15 L1230.63 776.76 L1233 776.4 L1236.06 775.86 L1239.36 775.19 L1242.69 774.46 L1245.84 773.71 L1248.6 773 L1251.33 772.21 L1254.43 771.24 L1257.72 770.16 L1261.07 769.05 L1264.3 768 L1266.58 767.26 L1269.39 766.33 L1272.57 765.27 L1275.93 764.16 L1279.29 763.06 L1282.49 762.04 L1285.35 761.16 L1287.7 760.5 L1290.49 759.8 L1293.41 759.14 L1296.38 758.54 L1299.33 758.02 L1302.19 757.6 L1304.9 757.3 L1307.51 757.13 L1310.7 757.01 L1314.23 756.93 L1317.86 756.9 L1321.32 756.9 L1324.39 756.94 L1326.8 757 L1330.24 757.33 L1333.55 757.88 L1336.8 758.4 L1340 758.6 L1342.5 758.45 L1345.56 758.11 L1348.96 757.67 L1352.46 757.21 L1355.82 756.82 L1358.8 756.6 L1361.48 756.53 L1364.71 756.51 L1368.25 756.53 L1371.86 756.58 L1375.3 756.67 L1378.33 756.77 L1380.7 756.9 L1384.12 757.25 L1387.42 757.76 L1390.49 758.34 L1393.2 758.9 L1396.03 759.6 L1399.29 760.51 L1402.63 761.39 L1405.7 762 L1408.32 762.24 L1411.47 762.37 L1414.88 762.46 L1418.28 762.58 L1421.4 762.8 L1423.75 763.06 L1426.58 763.43 L1429.7 763.85 L1432.95 764.31 L1436.15 764.78 L1439.12 765.22 L1441.7 765.6 L1444.31 765.98 L1447.36 766.43 L1450.65 766.92 L1453.96 767.42 L1457.1 767.92 L1459.85 768.39 L1462 768.8 L1464.98 769.62 L1467.74 770.6 L1470.37 771.53 L1473 772.2 L1475.58 772.55 L1478.82 772.85 L1482.33 773.09 L1485.72 773.28 L1488.6 773.4 L1491.48 773.45 L1494.86 773.44 L1498.37 773.4 L1501.64 773.34 L1504.3 773.3 L1507.55 773.24 L1511.18 773.14 L1514.43 773.06 L1516.5 773" fill="none" stroke-width="0.9"/>
<path d="M1056.6 786.5 H1520.6" fill="none" stroke-width="1.25"/>
<path d="M960 884.65 L1080 884.65 L1081.72 884.61 L1084.3 884.53 L1087.48 884.46 L1091.01 884.38 L1094.65 884.21 L1098.13 884.1 L1101.2 883.97 L1103.63 883.84 L1106.51 883.57 L1109.71 883.25 L1113.1 883 L1116.58 882.67 L1120.01 882.59 L1123.27 882.09 L1126.24 881.77 L1128.8 881.47 L1131.62 881.11 L1134.77 880.68 L1138.14 880.18 L1141.57 879.69 L1144.92 879.23 L1148.07 879.35 L1150.88 878.2 L1153.2 877.87 L1156.46 877.35 L1159.72 876.76 L1162.98 877.02 L1166.24 875.86 L1169.5 875.46 L1171.88 875.13 L1174.84 875.8 L1178.17 874.76 L1181.7 874.55 L1185.23 874.46 L1188.56 874.43 L1191.52 874.22 L1193.9 874.58 L1197.26 873.71 L1200.73 873.29 L1204.15 873.02 L1207.36 873.01 L1210.2 872.48 L1213.13 872.15 L1216.53 871.78 L1220.07 871.71 L1223.47 871.08 L1226.4 871.27 L1229.34 870.23 L1232.76 869.45 L1236.33 868.7 L1239.75 868.54 L1242.7 867.73 L1245.65 866.56 L1249.06 864.85 L1252.64 864.51 L1256.05 862.77 L1259 861.81 L1261.95 860.94 L1265.37 859.96 L1268.94 859.14 L1272.36 858.5 L1275.3 857.38 L1278.23 857.81 L1281.63 856.58 L1285.17 856.37 L1288.57 855.48 L1291.5 856.06 L1294.44 855.57 L1297.86 856.05 L1301.43 856.32 L1304.85 857.26 L1307.8 857.63 L1310.67 857.42 L1313.94 856.95 L1317.4 856.96 L1320.85 856.69 L1324.1 857.52 L1326.62 856.79 L1329.66 857.91 L1333.04 857.55 L1336.57 857.69 L1340.08 857.58 L1343.38 857.36 L1346.3 858.04 L1348.93 858.78 L1352.03 857.81 L1355.44 858.5 L1358.96 858.05 L1362.43 858.99 L1365.66 858.39 L1368.47 859.13 L1370.7 859.46 L1374.38 859.08 L1377.85 859.18 L1381 860.02 L1383.7 859.94 L1386.4 860.66 L1389.4 861.16 L1392.4 861.94 L1395.1 863.23 L1397.89 863.8 L1401.19 864.69 L1404.7 865.82 L1408.1 867.79 L1410.64 867.49 L1413.78 868.19 L1417.28 868.81 L1420.91 869.6 L1424.42 868.84 L1427.6 869.21 L1430.09 870.2 L1433.06 870.75 L1436.35 871.46 L1439.8 871.61 L1443.24 872 L1446.54 872.11 L1449.51 872.2 L1452 873.45 L1454.67 873.42 L1457.58 873.43 L1460.6 873.87 L1463.63 875.54 L1466.55 874.95 L1469.25 875.45 L1471.6 876.94 L1474.38 876.51 L1477.55 876.82 L1480.88 876.92 L1484.14 877.07 L1487.09 877.89 L1489.5 877.31 L1492.77 877.58 L1496.21 878.49 L1499.54 877.31 L1502.5 877.5 L1505.13 877.73 L1508.37 877.71 L1511.68 877.82 L1514.5 878.03 L1516.3 878.2 L1520.6 884.65 Z" fill="#626f6f"/>
<path d="M1516.3 878.8 L1520.1 884.05 L1516.3 884.05 Z" fill="#7d8a8a" stroke="none"/>
<path d="M1515.6 878.8 V884.05" stroke="#454848" stroke-width="1.6" fill="none"/>
<path d="M1516.3 878.2 L1520.6 884.65" fill="none" stroke-width="1.15"/>
<path d="M1080 884.65 L1081.72 884.6 L1084.3 884.53 L1087.48 884.45 L1091.01 884.34 L1094.65 884.21 L1098.13 884.07 L1101.2 883.9 L1103.63 883.73 L1106.51 883.52 L1109.71 883.27 L1113.1 882.99 L1116.58 882.69 L1120.01 882.38 L1123.27 882.08 L1126.24 881.78 L1128.8 881.5 L1131.62 881.15 L1134.77 880.72 L1138.14 880.23 L1141.57 879.71 L1144.92 879.19 L1148.07 878.7 L1150.88 878.26 L1153.2 877.9 L1156.46 877.37 L1159.72 876.79 L1162.98 876.22 L1166.24 875.71 L1169.5 875.3 L1171.88 875.08 L1174.84 874.85 L1178.17 874.61 L1181.7 874.38 L1185.23 874.15 L1188.56 873.94 L1191.52 873.76 L1193.9 873.6 L1197.26 873.38 L1200.73 873.17 L1204.15 872.95 L1207.36 872.73 L1210.2 872.5 L1213.13 872.22 L1216.53 871.88 L1220.07 871.48 L1223.47 871.05 L1226.4 870.6 L1229.34 870.02 L1232.76 869.27 L1236.33 868.42 L1239.75 867.57 L1242.7 866.8 L1245.65 865.97 L1249.06 864.94 L1252.64 863.83 L1256.05 862.78 L1259 861.9 L1261.95 861.03 L1265.37 860.02 L1268.94 859 L1272.36 858.08 L1275.3 857.4 L1278.23 856.86 L1281.63 856.33 L1285.17 855.87 L1288.57 855.54 L1291.5 855.4 L1294.44 855.54 L1297.86 855.93 L1301.43 856.42 L1304.85 856.85 L1307.8 857.1 L1310.67 857.12 L1313.94 857.02 L1317.4 856.87 L1320.85 856.74 L1324.1 856.7 L1326.62 856.75 L1329.66 856.84 L1333.04 856.95 L1336.57 857.09 L1340.08 857.23 L1343.38 857.37 L1346.3 857.5 L1348.93 857.61 L1352.03 857.75 L1355.44 857.91 L1358.96 858.07 L1362.43 858.24 L1365.66 858.41 L1368.47 858.56 L1370.7 858.7 L1374.38 858.97 L1377.85 859.28 L1381 859.62 L1383.7 860 L1386.4 860.52 L1389.4 861.21 L1392.4 861.97 L1395.1 862.7 L1397.89 863.6 L1401.19 864.76 L1404.7 865.92 L1408.1 866.8 L1410.64 867.24 L1413.78 867.67 L1417.28 868.1 L1420.91 868.51 L1424.42 868.91 L1427.6 869.3 L1430.09 869.62 L1433.06 870 L1436.35 870.42 L1439.8 870.86 L1443.24 871.31 L1446.54 871.74 L1449.51 872.14 L1452 872.5 L1454.67 872.92 L1457.58 873.42 L1460.6 873.96 L1463.63 874.5 L1466.55 875.01 L1469.25 875.46 L1471.6 875.8 L1474.38 876.13 L1477.55 876.46 L1480.88 876.76 L1484.14 877.04 L1487.09 877.25 L1489.5 877.4 L1492.77 877.48 L1496.21 877.44 L1499.54 877.38 L1502.5 877.4 L1505.13 877.51 L1508.37 877.7 L1511.68 877.9 L1514.5 878.09 L1516.3 878.2" fill="none" stroke-width="0.9"/>
<path d="M960 884.65 H1520.6" fill="none" stroke-width="1.25"/>
<path d="M950.7 982.9 L1080 982.09 L1081.53 981.98 L1083.73 981.74 L1086.46 981.55 L1089.58 981.43 L1092.96 981.14 L1096.45 980.65 L1099.92 980.51 L1103.22 980.2 L1106.23 979.58 L1108.8 979.26 L1111.27 978.96 L1114.01 978.8 L1116.96 978.49 L1120.04 977.71 L1123.2 977.72 L1126.36 977.05 L1129.44 976.47 L1132.39 976.07 L1135.13 975.34 L1137.6 975.36 L1140.07 975.68 L1142.81 973.96 L1145.76 973.97 L1148.85 973 L1152.01 972.88 L1155.16 971.69 L1158.25 971.65 L1161.2 970.55 L1163.94 969.91 L1166.4 969.49 L1168.86 969.28 L1171.59 969.76 L1174.53 968.53 L1177.61 968.3 L1180.75 967.81 L1183.89 967.45 L1186.97 968.03 L1189.91 966.84 L1192.64 966.94 L1195.1 966.92 L1197.61 966.17 L1200.49 966.56 L1203.61 966.19 L1206.89 965.78 L1210.21 964.84 L1213.48 965.27 L1216.59 965.13 L1219.43 964.97 L1221.9 963.88 L1223.9 963.51 L1227.24 962.94 L1230.35 962.99 L1233.23 962.64 L1235.88 961.09 L1238.3 960.86 L1240.9 959.99 L1243.92 958.96 L1247.08 959.09 L1250.1 957.53 L1252.7 956.73 L1255.3 956.85 L1258.32 956.42 L1261.48 955.72 L1264.5 955.56 L1267.1 954.23 L1269.78 954.57 L1272.94 953.81 L1276.21 953.46 L1279.19 953.6 L1281.5 954.16 L1284.41 953.1 L1287.19 953.32 L1290.1 953.73 L1292.44 955.11 L1295.5 954.44 L1298.82 955.36 L1301.97 955.51 L1304.5 955.9 L1307.11 956.29 L1309.82 956.68 L1312.75 957.29 L1316 957.68 L1318.09 958.62 L1320.78 957.79 L1323.88 957.96 L1327.21 957.88 L1330.57 957.87 L1333.79 958.12 L1336.66 958.72 L1339 959.14 L1341.77 958.37 L1344.68 959.68 L1347.64 959.36 L1350.61 959.07 L1353.52 959.76 L1356.3 959.74 L1358.67 959.52 L1361.59 960.53 L1364.86 959.9 L1368.29 960.88 L1371.65 960.93 L1374.77 960.48 L1377.41 960.34 L1379.4 960.57 L1382.57 961.04 L1384.84 962.51 L1388 962.82 L1389.91 964.14 L1392.4 965.21 L1395.31 966.03 L1398.49 965.92 L1401.8 966.92 L1405.09 967.81 L1408.2 969.08 L1411 969.1 L1413.28 969.48 L1415.91 970.02 L1418.82 970.99 L1421.91 970.98 L1425.11 970.87 L1428.33 971.41 L1431.5 971.86 L1434.52 971.75 L1437.31 972.2 L1439.8 972.44 L1442.3 973.11 L1445.12 973.78 L1448.17 973.34 L1451.37 973.82 L1454.63 974.75 L1457.85 975.43 L1460.95 975.24 L1463.83 975.36 L1466.41 975.57 L1468.6 975.85 L1471.44 976.2 L1474.35 976.66 L1477.29 976.68 L1480.24 977.1 L1483.16 977.25 L1486.02 977.48 L1488.8 977.98 L1491.3 978.3 L1494.41 978.01 L1497.94 978.25 L1501.68 978.02 L1505.42 978.3 L1508.95 978.29 L1512.08 978.32 L1514.6 978.98 L1516.3 978.5 L1520.6 982.9 Z" fill="#626f6f"/>
<path d="M1516.3 979.1 L1520.1 982.3 L1516.3 982.3 Z" fill="#7d8a8a" stroke="none"/>
<path d="M1515.6 979.1 V982.3" stroke="#454848" stroke-width="1.6" fill="none"/>
<path d="M1516.3 978.5 L1520.6 982.9" fill="none" stroke-width="1.15"/>
<path d="M1080 982.1 L1081.53 981.96 L1083.73 981.76 L1086.46 981.51 L1089.58 981.23 L1092.96 980.92 L1096.45 980.59 L1099.92 980.25 L1103.22 979.92 L1106.23 979.6 L1108.8 979.3 L1111.27 978.98 L1114.01 978.61 L1116.96 978.2 L1120.04 977.75 L1123.2 977.28 L1126.36 976.81 L1129.44 976.33 L1132.39 975.86 L1135.13 975.41 L1137.6 975 L1140.07 974.56 L1142.81 974.04 L1145.76 973.45 L1148.85 972.83 L1152.01 972.19 L1155.16 971.56 L1158.25 970.95 L1161.2 970.39 L1163.94 969.9 L1166.4 969.5 L1168.86 969.16 L1171.59 968.81 L1174.53 968.48 L1177.61 968.14 L1180.75 967.82 L1183.89 967.51 L1186.97 967.21 L1189.91 966.92 L1192.64 966.65 L1195.1 966.4 L1197.61 966.15 L1200.49 965.87 L1203.61 965.57 L1206.89 965.26 L1210.21 964.94 L1213.48 964.62 L1216.59 964.32 L1219.43 964.02 L1221.9 963.75 L1223.9 963.5 L1227.24 962.99 L1230.35 962.41 L1233.23 961.8 L1235.88 961.18 L1238.3 960.6 L1240.9 959.91 L1243.92 959.04 L1247.08 958.11 L1250.1 957.25 L1252.7 956.6 L1255.3 956.08 L1258.32 955.56 L1261.48 955.07 L1264.5 954.64 L1267.1 954.3 L1269.78 954 L1272.94 953.7 L1276.21 953.42 L1279.19 953.21 L1281.5 953.1 L1284.41 953.13 L1287.19 953.35 L1290.1 953.7 L1292.44 954.04 L1295.5 954.53 L1298.82 955.09 L1301.97 955.61 L1304.5 956 L1307.11 956.38 L1309.82 956.77 L1312.75 957.12 L1316 957.4 L1318.09 957.52 L1320.78 957.63 L1323.88 957.75 L1327.21 957.86 L1330.57 957.97 L1333.79 958.08 L1336.66 958.19 L1339 958.3 L1341.77 958.46 L1344.68 958.67 L1347.64 958.89 L1350.61 959.11 L1353.52 959.32 L1356.3 959.5 L1358.67 959.62 L1361.59 959.74 L1364.86 959.86 L1368.29 960 L1371.65 960.13 L1374.77 960.28 L1377.41 960.44 L1379.4 960.6 L1382.57 961.14 L1384.84 961.89 L1388 962.9 L1389.91 963.45 L1392.4 964.19 L1395.31 965.06 L1398.49 966 L1401.8 966.95 L1405.09 967.84 L1408.2 968.61 L1411 969.2 L1413.28 969.57 L1415.91 969.93 L1418.82 970.28 L1421.91 970.62 L1425.11 970.94 L1428.33 971.25 L1431.5 971.55 L1434.52 971.85 L1437.31 972.13 L1439.8 972.4 L1442.3 972.7 L1445.12 973.04 L1448.17 973.42 L1451.37 973.82 L1454.63 974.22 L1457.85 974.63 L1460.95 975.01 L1463.83 975.36 L1466.41 975.66 L1468.6 975.9 L1471.44 976.19 L1474.35 976.48 L1477.29 976.75 L1480.24 977 L1483.16 977.23 L1486.02 977.43 L1488.8 977.6 L1491.3 977.72 L1494.41 977.84 L1497.94 977.96 L1501.68 978.08 L1505.42 978.19 L1508.95 978.29 L1512.08 978.38 L1514.6 978.45 L1516.3 978.5" fill="none" stroke-width="0.9"/>
<path d="M950.7 982.9 H1520.6" fill="none" stroke-width="1.25"/>
<path d="M1060.5 1080.8 L1112.5 1080.8 L1114.04 1080.72 L1116.22 1080.57 L1118.92 1080.4 L1122.03 1080.22 L1125.41 1080 L1128.96 1079.8 L1132.57 1079.65 L1136.1 1079.34 L1139.44 1079.31 L1142.48 1079.01 L1145.1 1078.86 L1147.62 1078.97 L1150.4 1078.58 L1153.38 1078.27 L1156.51 1078.17 L1159.73 1078.15 L1162.97 1077.75 L1166.19 1077.49 L1169.32 1077.46 L1172.3 1077.31 L1175.08 1077.03 L1177.6 1077.17 L1180.16 1076.75 L1183.05 1076.78 L1186.18 1077.06 L1189.48 1077.08 L1192.86 1076.7 L1196.23 1076.87 L1199.53 1076.42 L1202.65 1075.91 L1205.53 1075.91 L1208.07 1076.05 L1210.2 1075.54 L1213.76 1075.95 L1217.38 1075.81 L1220.93 1074.69 L1224.26 1074.67 L1227.23 1074.46 L1229.7 1074.18 L1233.01 1073.48 L1236.36 1074.06 L1239.63 1072.78 L1242.7 1072.21 L1245.48 1072.21 L1248.87 1071.23 L1252.51 1069.96 L1256.01 1069.32 L1259 1068.15 L1261.91 1067.19 L1265.24 1067.18 L1268.75 1064.74 L1272.19 1063.79 L1275.3 1063.61 L1278.1 1061.43 L1281.51 1060.28 L1285.21 1059.47 L1288.88 1058.41 L1292.18 1057.6 L1294.8 1056.89 L1298.11 1055.19 L1301.46 1054.69 L1304.73 1054.82 L1307.8 1054.02 L1310.65 1054.68 L1314.18 1054.61 L1317.92 1053.96 L1321.39 1053.86 L1324.1 1052.7 L1326.92 1053.96 L1329.8 1053.42 L1332.56 1053.66 L1335 1054.58 L1337.5 1053.25 L1340.38 1053.46 L1343.4 1052.27 L1346.3 1051.9 L1348.91 1052.35 L1352.15 1051.66 L1355.7 1052.76 L1359.25 1051.87 L1362.5 1051.93 L1364.99 1051.31 L1368.05 1051.44 L1371.43 1051.04 L1374.92 1050.97 L1378.28 1050.84 L1381.28 1051.23 L1383.7 1051.52 L1386.7 1051.94 L1389.84 1051.14 L1392.94 1051.67 L1395.82 1051.69 L1398.3 1052.21 L1401.05 1052.4 L1403.96 1053.34 L1407.31 1054.28 L1411.4 1054.81 L1413.37 1054.69 L1415.89 1054.62 L1418.84 1054.79 L1422.1 1055.15 L1425.56 1056.04 L1429.1 1055.15 L1432.6 1055.73 L1435.95 1055.49 L1439.03 1056.43 L1441.72 1055.79 L1443.9 1057.08 L1447.51 1056.39 L1451.27 1057.52 L1454.95 1057.86 L1458.34 1058.38 L1461.23 1059.77 L1463.4 1059.64 L1466.89 1060.88 L1469.9 1062.13 L1471.92 1062.15 L1474.51 1062.39 L1477.57 1063.79 L1480.97 1063.78 L1484.6 1063.61 L1486.64 1063.35 L1489.28 1064.34 L1492.38 1063.59 L1495.79 1064.07 L1499.38 1063.4 L1502.98 1063.76 L1506.47 1064.25 L1509.69 1063.35 L1512.5 1063.32 L1514.75 1064.34 L1516.3 1063.4 L1520.6 1080.8 Z" fill="#7deff1"/>
<path d="M1516.3 1064 L1520.1 1080.2 L1516.3 1080.2 Z" fill="#86f6f8" stroke="none"/>
<path d="M1515.6 1064 V1080.2" stroke="#4a9ab0" stroke-width="1.6" fill="none"/>
<path d="M1516.3 1063.4 L1520.6 1080.8" fill="none" stroke-width="1.15"/>
<path d="M1112.5 1080.8 L1114.04 1080.71 L1116.22 1080.57 L1118.92 1080.4 L1122.03 1080.21 L1125.41 1080 L1128.96 1079.78 L1132.57 1079.56 L1136.1 1079.35 L1139.44 1079.14 L1142.48 1078.96 L1145.1 1078.8 L1147.62 1078.65 L1150.4 1078.48 L1153.38 1078.3 L1156.51 1078.11 L1159.73 1077.91 L1162.97 1077.72 L1166.19 1077.53 L1169.32 1077.35 L1172.3 1077.18 L1175.08 1077.03 L1177.6 1076.9 L1180.16 1076.78 L1183.05 1076.66 L1186.18 1076.54 L1189.48 1076.42 L1192.86 1076.3 L1196.23 1076.18 L1199.53 1076.06 L1202.65 1075.94 L1205.53 1075.82 L1208.07 1075.71 L1210.2 1075.6 L1213.76 1075.37 L1217.38 1075.08 L1220.93 1074.76 L1224.26 1074.45 L1227.23 1074.15 L1229.7 1073.9 L1233.01 1073.57 L1236.36 1073.22 L1239.63 1072.81 L1242.7 1072.3 L1245.48 1071.71 L1248.87 1070.9 L1252.51 1069.99 L1256.01 1069.06 L1259 1068.2 L1261.91 1067.26 L1265.24 1066.1 L1268.75 1064.83 L1272.19 1063.59 L1275.3 1062.5 L1278.1 1061.53 L1281.51 1060.34 L1285.21 1059.06 L1288.88 1057.82 L1292.18 1056.76 L1294.8 1056 L1298.11 1055.29 L1301.46 1054.79 L1304.73 1054.42 L1307.8 1054.1 L1310.65 1053.81 L1314.18 1053.48 L1317.92 1053.16 L1321.39 1052.92 L1324.1 1052.8 L1326.92 1052.91 L1329.8 1053.21 L1332.56 1053.51 L1335 1053.6 L1337.5 1053.34 L1340.38 1052.87 L1343.4 1052.35 L1346.3 1052 L1348.91 1051.86 L1352.15 1051.75 L1355.7 1051.66 L1359.25 1051.59 L1362.5 1051.5 L1364.99 1051.41 L1368.05 1051.28 L1371.43 1051.14 L1374.92 1051 L1378.28 1050.88 L1381.28 1050.81 L1383.7 1050.8 L1386.7 1050.9 L1389.84 1051.11 L1392.94 1051.39 L1395.82 1051.7 L1398.3 1052 L1401.05 1052.5 L1403.96 1053.18 L1407.31 1053.87 L1411.4 1054.4 L1413.37 1054.54 L1415.89 1054.68 L1418.84 1054.82 L1422.1 1054.95 L1425.56 1055.09 L1429.1 1055.22 L1432.6 1055.37 L1435.95 1055.51 L1439.03 1055.67 L1441.72 1055.83 L1443.9 1056 L1447.51 1056.42 L1451.27 1056.98 L1454.95 1057.61 L1458.34 1058.25 L1461.23 1058.84 L1463.4 1059.3 L1466.89 1060.58 L1469.9 1061.7 L1471.92 1062.06 L1474.51 1062.47 L1477.57 1062.86 L1480.97 1063.19 L1484.6 1063.4 L1486.64 1063.45 L1489.28 1063.48 L1492.38 1063.5 L1495.79 1063.5 L1499.38 1063.49 L1502.98 1063.48 L1506.47 1063.46 L1509.69 1063.44 L1512.5 1063.42 L1514.75 1063.41 L1516.3 1063.4" fill="none" stroke-width="0.9"/>
<path d="M1060.5 1080.8 H1520.6" fill="none" stroke-width="1.25"/>
<path d="M1035 1179 L1112.5 1179 L1114.04 1178.87 L1116.22 1178.7 L1118.92 1178.49 L1122.03 1178.3 L1125.41 1177.98 L1128.96 1177.71 L1132.57 1177.38 L1136.1 1177.15 L1139.44 1176.85 L1142.48 1176.82 L1145.1 1176.43 L1147.66 1176.34 L1150.54 1175.96 L1153.66 1175.74 L1156.95 1175.58 L1160.31 1175.42 L1163.68 1175.13 L1166.96 1174.74 L1170.07 1175.01 L1172.94 1174.81 L1175.47 1174.33 L1177.6 1174.32 L1180.62 1173.93 L1183.69 1173.44 L1186.73 1173.62 L1189.67 1172.88 L1192.44 1173.53 L1194.98 1172.5 L1197.2 1173.12 L1200.28 1173.26 L1203.66 1172.31 L1207.11 1172.89 L1210.43 1172.39 L1213.4 1172.5 L1216 1172.23 L1219.1 1171.96 L1222.42 1171.93 L1225.74 1172.19 L1228.78 1171.22 L1231.3 1170.6 L1234.14 1170.16 L1237.29 1169.53 L1240.48 1168.83 L1243.47 1168.11 L1246 1167.45 L1249.04 1166.73 L1252.42 1165.12 L1255.84 1163.71 L1259 1163.54 L1261.78 1161.61 L1265.18 1160.83 L1268.82 1159.49 L1272.32 1158.51 L1275.3 1157.72 L1278.23 1156.78 L1281.63 1156.09 L1285.17 1155.05 L1288.57 1154.02 L1291.5 1153.35 L1294.46 1152.76 L1297.92 1152.28 L1301.53 1152.22 L1304.94 1150.98 L1307.8 1151.84 L1310.49 1151.08 L1313.48 1150.53 L1316.59 1149.78 L1319.63 1149.62 L1322.4 1149.55 L1324.97 1149.52 L1328.16 1150.9 L1331.61 1150.2 L1334.97 1150.15 L1337.89 1150.41 L1340 1150.91 L1343.46 1149.83 L1346.3 1149.63 L1348.62 1149.88 L1351.66 1150.46 L1354.88 1150.65 L1357.7 1151.06 L1360.62 1151.46 L1364.12 1150.79 L1367.66 1149.8 L1370.7 1149.24 L1373.68 1149.22 L1377.12 1150.36 L1380.6 1149.69 L1383.7 1151.01 L1386.28 1150.12 L1389.37 1150.54 L1392.63 1151.94 L1395.72 1151.29 L1398.3 1151.62 L1401.36 1152.85 L1404.77 1153.57 L1408.22 1154.76 L1411.4 1155.03 L1414.27 1154.97 L1417.85 1155.63 L1421.62 1155.21 L1425.04 1154.49 L1427.6 1154.94 L1430.45 1155.1 L1432.95 1156.66 L1435.8 1157.45 L1438.3 1157.66 L1441.6 1158.83 L1445.27 1159.31 L1448.88 1159.06 L1452 1158.84 L1454.6 1159.35 L1457.7 1160.61 L1461.02 1160.81 L1464.34 1161.82 L1467.38 1162.15 L1469.9 1163.36 L1472.7 1163.05 L1475.77 1163.47 L1478.9 1164.36 L1481.91 1165.13 L1484.6 1165.2 L1487.46 1164.62 L1490.86 1165.41 L1494.46 1165.64 L1497.89 1165.38 L1500.8 1164.92 L1503.84 1164.98 L1507.49 1165.52 L1511.17 1165.12 L1514.3 1165.06 L1516.3 1164.7 L1520.6 1179 Z" fill="#7deff1"/>
<path d="M1516.3 1165.3 L1520.1 1178.4 L1516.3 1178.4 Z" fill="#86f6f8" stroke="none"/>
<path d="M1515.6 1165.3 V1178.4" stroke="#4a9ab0" stroke-width="1.6" fill="none"/>
<path d="M1516.3 1164.7 L1520.6 1179" fill="none" stroke-width="1.15"/>
<path d="M1112.5 1179 L1114.04 1178.88 L1116.22 1178.7 L1118.92 1178.48 L1122.03 1178.23 L1125.41 1177.96 L1128.96 1177.68 L1132.57 1177.39 L1136.1 1177.11 L1139.44 1176.84 L1142.48 1176.6 L1145.1 1176.4 L1147.66 1176.21 L1150.54 1175.99 L1153.66 1175.76 L1156.95 1175.52 L1160.31 1175.27 L1163.68 1175.03 L1166.96 1174.79 L1170.07 1174.56 L1172.94 1174.35 L1175.47 1174.16 L1177.6 1174 L1180.62 1173.75 L1183.69 1173.49 L1186.73 1173.21 L1189.67 1172.95 L1192.44 1172.72 L1194.98 1172.53 L1197.2 1172.4 L1200.28 1172.34 L1203.66 1172.37 L1207.11 1172.44 L1210.43 1172.47 L1213.4 1172.4 L1216 1172.24 L1219.1 1172 L1222.42 1171.71 L1225.74 1171.38 L1228.78 1171.04 L1231.3 1170.7 L1234.14 1170.22 L1237.29 1169.6 L1240.48 1168.9 L1243.47 1168.18 L1246 1167.5 L1249.04 1166.46 L1252.42 1165.13 L1255.84 1163.76 L1259 1162.6 L1261.78 1161.71 L1265.18 1160.67 L1268.82 1159.58 L1272.32 1158.56 L1275.3 1157.7 L1278.23 1156.86 L1281.63 1155.88 L1285.17 1154.89 L1288.57 1154 L1291.5 1153.3 L1294.46 1152.72 L1297.92 1152.12 L1301.53 1151.56 L1304.94 1151.07 L1307.8 1150.7 L1310.49 1150.4 L1313.48 1150.12 L1316.59 1149.87 L1319.63 1149.69 L1322.4 1149.6 L1324.97 1149.62 L1328.16 1149.73 L1331.61 1149.88 L1334.97 1150.03 L1337.89 1150.15 L1340 1150.2 L1343.46 1149.87 L1346.3 1149.6 L1348.62 1149.85 L1351.66 1150.3 L1354.88 1150.73 L1357.7 1150.9 L1360.62 1150.65 L1364.12 1150.13 L1367.66 1149.6 L1370.7 1149.3 L1373.68 1149.29 L1377.12 1149.43 L1380.6 1149.65 L1383.7 1149.9 L1386.28 1150.14 L1389.37 1150.48 L1392.63 1150.86 L1395.72 1151.28 L1398.3 1151.7 L1401.36 1152.45 L1404.77 1153.47 L1408.22 1154.42 L1411.4 1155 L1414.27 1155.06 L1417.85 1154.9 L1421.62 1154.66 L1425.04 1154.48 L1427.6 1154.5 L1430.45 1155.2 L1432.95 1156.3 L1435.8 1157.2 L1438.3 1157.53 L1441.6 1157.84 L1445.27 1158.16 L1448.88 1158.5 L1452 1158.9 L1454.6 1159.37 L1457.7 1160.01 L1461.02 1160.73 L1464.34 1161.46 L1467.38 1162.11 L1469.9 1162.6 L1472.7 1163.07 L1475.77 1163.55 L1478.9 1163.99 L1481.91 1164.36 L1484.6 1164.6 L1487.46 1164.72 L1490.86 1164.75 L1494.46 1164.74 L1497.89 1164.71 L1500.8 1164.7 L1503.84 1164.71 L1507.49 1164.71 L1511.17 1164.7 L1514.3 1164.7 L1516.3 1164.7" fill="none" stroke-width="0.9"/>
<path d="M1035 1179 H1520.6" fill="none" stroke-width="1.25"/>
<path d="M981.7 1277 L1080 1276.8 L1081.72 1276.61 L1084.27 1276.33 L1087.43 1275.98 L1090.98 1275.6 L1094.68 1275.38 L1098.3 1274.85 L1101.62 1274.35 L1104.4 1273.97 L1107.05 1273.66 L1110.04 1273.2 L1113.26 1273.18 L1116.6 1272.2 L1119.94 1272.15 L1123.16 1271.77 L1126.15 1270.57 L1128.8 1269.96 L1131.49 1269.29 L1134.59 1269.07 L1137.95 1268.84 L1141.4 1267.45 L1144.81 1266.28 L1148.01 1266.06 L1150.86 1265.28 L1153.2 1264.47 L1156.46 1264.44 L1159.72 1264.43 L1162.98 1263.48 L1166.24 1263.18 L1169.5 1262.56 L1171.88 1262.23 L1174.84 1261.09 L1178.17 1260.37 L1181.7 1260.17 L1185.23 1259.57 L1188.56 1259.04 L1191.52 1259.78 L1193.9 1259.45 L1197.26 1258.92 L1200.73 1258.81 L1204.15 1258.23 L1207.36 1258.76 L1210.2 1258.08 L1213.13 1257.66 L1216.53 1257.92 L1220.07 1256.85 L1223.47 1256.56 L1226.4 1255.65 L1229.34 1255.25 L1232.76 1254.34 L1236.33 1253.28 L1239.75 1253.27 L1242.7 1252.3 L1245.71 1251.22 L1249.25 1251.32 L1252.92 1250.45 L1256.3 1249.18 L1259 1249.36 L1261.88 1249.25 L1264.87 1247.72 L1267.77 1247.86 L1270.4 1247.92 L1273.25 1247.01 L1276.65 1248.25 L1280.18 1247.88 L1283.4 1248.66 L1286.18 1248.91 L1289.58 1249.83 L1293.22 1250.61 L1296.72 1251.96 L1299.7 1251.74 L1302.63 1252.02 L1306.03 1253.17 L1309.57 1253.98 L1312.97 1254.61 L1315.9 1254.6 L1318.81 1254.48 L1322.15 1254.42 L1325.68 1254.12 L1329.11 1254.03 L1332.2 1254.36 L1334.84 1254.79 L1337.93 1255.62 L1341.3 1255.4 L1344.75 1256.4 L1348.11 1255.59 L1351.2 1256.87 L1353.72 1256.18 L1356.81 1256.39 L1360.26 1256.33 L1363.87 1256.62 L1367.41 1257.91 L1370.68 1257.8 L1373.48 1256.98 L1375.6 1257.39 L1379.46 1258.85 L1382.45 1258.77 L1385.3 1259.23 L1388.12 1259.79 L1391.63 1260.85 L1395.23 1261.87 L1398.3 1262.64 L1401.11 1263.53 L1404.28 1264.95 L1407.73 1265.56 L1411.4 1266.98 L1413.62 1266.96 L1416.41 1266.71 L1419.6 1267.72 L1423.03 1267.35 L1426.54 1268.58 L1429.95 1268.88 L1433.09 1268.63 L1435.8 1268.62 L1438.48 1268.94 L1441.53 1269.75 L1444.84 1270.32 L1448.25 1270.86 L1451.62 1270.91 L1454.83 1271.67 L1457.74 1271.67 L1460.2 1271.73 L1463.3 1272.58 L1466.65 1272.32 L1470.12 1272.96 L1473.54 1273.11 L1476.78 1273.29 L1479.7 1273.98 L1482.32 1273.62 L1485.4 1273.7 L1488.74 1273.76 L1492.15 1273.86 L1495.43 1274.27 L1498.38 1273.95 L1500.8 1274.37 L1504.09 1274.15 L1507.77 1274.39 L1511.36 1274.59 L1514.36 1274.24 L1516.3 1274.3 L1520.6 1277 Z" fill="#626f6f"/>
<path d="M1516.3 1274.9 L1520.1 1276.4 L1516.3 1276.4 Z" fill="#7d8a8a" stroke="none"/>
<path d="M1515.6 1274.9 V1276.4" stroke="#454848" stroke-width="1.6" fill="none"/>
<path d="M1516.3 1274.3 L1520.6 1277" fill="none" stroke-width="1.15"/>
<path d="M1080 1276.8 L1081.72 1276.61 L1084.27 1276.33 L1087.43 1275.99 L1090.98 1275.61 L1094.68 1275.19 L1098.3 1274.77 L1101.62 1274.37 L1104.4 1274 L1107.05 1273.61 L1110.04 1273.15 L1113.26 1272.63 L1116.6 1272.08 L1119.94 1271.51 L1123.16 1270.95 L1126.15 1270.4 L1128.8 1269.9 L1131.49 1269.35 L1134.59 1268.68 L1137.95 1267.93 L1141.4 1267.14 L1144.81 1266.36 L1148.01 1265.63 L1150.86 1265 L1153.2 1264.5 L1156.46 1263.85 L1159.72 1263.23 L1162.98 1262.65 L1166.24 1262.1 L1169.5 1261.6 L1171.88 1261.26 L1174.84 1260.85 L1178.17 1260.4 L1181.7 1259.94 L1185.23 1259.5 L1188.56 1259.09 L1191.52 1258.75 L1193.9 1258.5 L1197.26 1258.25 L1200.73 1258.11 L1204.15 1258 L1207.36 1257.88 L1210.2 1257.7 L1213.13 1257.41 L1216.53 1257.02 L1220.07 1256.56 L1223.47 1256.08 L1226.4 1255.6 L1229.34 1255.01 L1232.76 1254.22 L1236.33 1253.37 L1239.75 1252.56 L1242.7 1251.9 L1245.71 1251.29 L1249.25 1250.6 L1252.92 1249.91 L1256.3 1249.28 L1259 1248.8 L1261.88 1248.28 L1264.87 1247.75 L1267.77 1247.32 L1270.4 1247.1 L1273.25 1247.11 L1276.65 1247.29 L1280.18 1247.6 L1283.4 1248 L1286.18 1248.51 L1289.58 1249.24 L1293.22 1250.06 L1296.72 1250.86 L1299.7 1251.5 L1302.63 1252.11 L1306.03 1252.83 L1309.57 1253.55 L1312.97 1254.14 L1315.9 1254.5 L1318.81 1254.56 L1322.15 1254.41 L1325.68 1254.19 L1329.11 1254.01 L1332.2 1254 L1334.84 1254.18 L1337.93 1254.48 L1341.3 1254.86 L1344.75 1255.26 L1348.11 1255.62 L1351.2 1255.9 L1353.72 1256.06 L1356.81 1256.23 L1360.26 1256.39 L1363.87 1256.56 L1367.41 1256.73 L1370.68 1256.89 L1373.48 1257.05 L1375.6 1257.2 L1379.46 1257.66 L1382.45 1258.23 L1385.3 1258.9 L1388.12 1259.65 L1391.63 1260.65 L1395.23 1261.71 L1398.3 1262.6 L1401.11 1263.46 L1404.28 1264.47 L1407.73 1265.44 L1411.4 1266.2 L1413.62 1266.5 L1416.41 1266.81 L1419.6 1267.12 L1423.03 1267.43 L1426.54 1267.74 L1429.95 1268.04 L1433.09 1268.33 L1435.8 1268.6 L1438.48 1268.9 L1441.53 1269.26 L1444.84 1269.66 L1448.25 1270.07 L1451.62 1270.48 L1454.83 1270.87 L1457.74 1271.22 L1460.2 1271.5 L1463.3 1271.85 L1466.65 1272.23 L1470.12 1272.62 L1473.54 1272.98 L1476.78 1273.28 L1479.7 1273.5 L1482.32 1273.63 L1485.4 1273.73 L1488.74 1273.8 L1492.15 1273.86 L1495.43 1273.91 L1498.38 1273.96 L1500.8 1274 L1504.09 1274.07 L1507.77 1274.14 L1511.36 1274.21 L1514.36 1274.26 L1516.3 1274.3" fill="none" stroke-width="0.9"/>
<path d="M981.7 1277 H1520.6" fill="none" stroke-width="1.25"/>
<path d="M1060 1375.2 L1096 1375.2 L1097.42 1375.18 L1099.24 1375.14 L1101.43 1375.1 L1103.94 1375.07 L1106.74 1375.01 L1109.78 1374.95 L1113.02 1374.88 L1116.42 1374.86 L1119.95 1374.74 L1123.56 1374.68 L1127.22 1374.61 L1130.88 1374.58 L1134.5 1374.46 L1138.04 1374.42 L1141.47 1374.34 L1144.74 1374.27 L1147.81 1374.21 L1150.64 1374.24 L1153.2 1374.09 L1155.73 1374.2 L1158.5 1373.99 L1161.47 1374.1 L1164.62 1373.96 L1167.9 1373.78 L1171.28 1373.81 L1174.74 1373.67 L1178.25 1373.6 L1181.76 1373.71 L1185.24 1373.47 L1188.67 1373.48 L1192.02 1373.25 L1195.24 1373.32 L1198.3 1373.25 L1201.18 1373.06 L1203.85 1373.09 L1206.26 1373.17 L1208.39 1372.86 L1210.2 1372.94 L1214.36 1372.72 L1217.99 1372.56 L1221.17 1372.37 L1224 1372.23 L1226.57 1371.95 L1228.97 1371.73 L1231.3 1371.6 L1234.29 1371.26 L1237.7 1370.68 L1241.29 1370.25 L1244.83 1369.67 L1248.07 1369.18 L1250.8 1369.2 L1253.91 1367.96 L1257.35 1367.52 L1260.86 1366.47 L1264.19 1365.58 L1267.1 1364.51 L1270.05 1363.58 L1273.46 1363.46 L1277.04 1361.19 L1280.45 1360.93 L1283.4 1358.91 L1286.39 1357.91 L1289.89 1357.5 L1293.53 1355.85 L1296.92 1355.27 L1299.7 1354.02 L1302.92 1353.1 L1306.45 1352.64 L1309.85 1352.46 L1312.7 1351.09 L1315.44 1351.63 L1318.51 1350.89 L1321.52 1351.17 L1324.1 1349.96 L1326.55 1350.19 L1329.31 1350.15 L1332.19 1350.69 L1335 1350.43 L1337.45 1350.42 L1340.39 1349.84 L1343.73 1348.77 L1347.37 1348.72 L1351.2 1347.82 L1353.3 1347.77 L1355.96 1348.81 L1359.07 1348.34 L1362.47 1348.13 L1366.04 1347.19 L1369.66 1348.07 L1373.18 1347.07 L1376.48 1347.22 L1379.42 1347.43 L1381.87 1346.68 L1383.7 1347.2 L1387.39 1346.54 L1389.26 1346.78 L1391.8 1345.8 L1393.74 1345.87 L1396.27 1345.93 L1399.22 1346.24 L1402.39 1347 L1405.59 1346.92 L1408.66 1347.46 L1411.4 1346.98 L1413.91 1347.29 L1416.93 1347.24 L1420.27 1347.06 L1423.77 1348.13 L1427.25 1347.2 L1430.53 1347.72 L1433.44 1347.62 L1435.8 1347.21 L1439.15 1347.36 L1442.59 1347.45 L1445.98 1347.68 L1449.17 1348.53 L1452 1348.92 L1455.05 1349.18 L1458.67 1349.26 L1462.4 1349.96 L1465.77 1350.48 L1468.3 1351.04 L1471.12 1351.85 L1473.58 1352.32 L1476.4 1352.89 L1478.97 1353.81 L1482.42 1352.83 L1486.21 1353.38 L1489.82 1352.37 L1492.7 1352.01 L1495.94 1353.39 L1499.49 1353.72 L1502.89 1354.43 L1505.7 1353.93 L1508.49 1353.62 L1511.65 1353.52 L1514.49 1353.27 L1516.3 1353.2 L1520.6 1375.2 Z" fill="#626f6f"/>
<path d="M1516.3 1353.8 L1520.1 1374.6 L1516.3 1374.6 Z" fill="#7d8a8a" stroke="none"/>
<path d="M1515.6 1353.8 V1374.6" stroke="#454848" stroke-width="1.6" fill="none"/>
<path d="M1516.3 1353.2 L1520.6 1375.2" fill="none" stroke-width="1.15"/>
<path d="M1096 1375.2 L1097.42 1375.17 L1099.24 1375.14 L1101.43 1375.1 L1103.94 1375.05 L1106.74 1375 L1109.78 1374.94 L1113.02 1374.88 L1116.42 1374.82 L1119.95 1374.75 L1123.56 1374.68 L1127.22 1374.61 L1130.88 1374.54 L1134.5 1374.47 L1138.04 1374.4 L1141.47 1374.34 L1144.74 1374.27 L1147.81 1374.21 L1150.64 1374.15 L1153.2 1374.1 L1155.73 1374.05 L1158.5 1373.99 L1161.47 1373.93 L1164.62 1373.86 L1167.9 1373.79 L1171.28 1373.72 L1174.74 1373.65 L1178.25 1373.57 L1181.76 1373.5 L1185.24 1373.42 L1188.67 1373.35 L1192.02 1373.27 L1195.24 1373.2 L1198.3 1373.12 L1201.18 1373.05 L1203.85 1372.98 L1206.26 1372.92 L1208.39 1372.86 L1210.2 1372.8 L1214.36 1372.65 L1217.99 1372.49 L1221.17 1372.31 L1224 1372.13 L1226.57 1371.94 L1228.97 1371.73 L1231.3 1371.5 L1234.29 1371.17 L1237.7 1370.74 L1241.29 1370.24 L1244.83 1369.71 L1248.07 1369.19 L1250.8 1368.7 L1253.91 1368.05 L1257.35 1367.24 L1260.86 1366.34 L1264.19 1365.44 L1267.1 1364.6 L1270.05 1363.64 L1273.46 1362.44 L1277.04 1361.14 L1280.45 1359.91 L1283.4 1358.9 L1286.39 1357.95 L1289.89 1356.86 L1293.53 1355.77 L1296.92 1354.77 L1299.7 1354 L1302.92 1353.18 L1306.45 1352.36 L1309.85 1351.63 L1312.7 1351.1 L1315.44 1350.72 L1318.51 1350.39 L1321.52 1350.14 L1324.1 1350 L1326.55 1350.04 L1329.31 1350.21 L1332.19 1350.36 L1335 1350.3 L1337.45 1349.99 L1340.39 1349.47 L1343.73 1348.87 L1347.37 1348.31 L1351.2 1347.9 L1353.3 1347.77 L1355.96 1347.64 L1359.07 1347.52 L1362.47 1347.39 L1366.04 1347.28 L1369.66 1347.16 L1373.18 1347.06 L1376.48 1346.96 L1379.42 1346.86 L1381.87 1346.78 L1383.7 1346.7 L1387.39 1346.37 L1389.26 1346.05 L1391.8 1345.9 L1393.74 1345.94 L1396.27 1346.03 L1399.22 1346.16 L1402.39 1346.31 L1405.59 1346.47 L1408.66 1346.6 L1411.4 1346.7 L1413.91 1346.76 L1416.93 1346.82 L1420.27 1346.88 L1423.77 1346.94 L1427.25 1346.99 L1430.53 1347.06 L1433.44 1347.12 L1435.8 1347.2 L1439.15 1347.35 L1442.59 1347.54 L1445.98 1347.77 L1449.17 1348.02 L1452 1348.3 L1455.05 1348.69 L1458.67 1349.21 L1462.4 1349.79 L1465.77 1350.35 L1468.3 1350.8 L1471.12 1351.58 L1473.58 1352.41 L1476.4 1352.9 L1478.97 1352.87 L1482.42 1352.66 L1486.21 1352.39 L1489.82 1352.16 L1492.7 1352.1 L1495.94 1352.37 L1499.49 1352.88 L1502.89 1353.4 L1505.7 1353.7 L1508.49 1353.69 L1511.65 1353.53 L1514.49 1353.33 L1516.3 1353.2" fill="none" stroke-width="0.9"/>
<path d="M1060 1375.2 H1520.6" fill="none" stroke-width="1.25"/>
<path d="M1040 1473.3 L1096 1473.3 L1097.46 1473.28 L1099.47 1473.25 L1101.93 1473.23 L1104.78 1473.21 L1107.93 1473.17 L1111.3 1473.12 L1114.82 1473.08 L1118.41 1473.02 L1121.98 1472.99 L1125.46 1472.93 L1128.77 1472.84 L1131.83 1472.83 L1134.57 1472.74 L1136.9 1472.65 L1139.65 1472.46 L1142.53 1472.39 L1145.51 1472.07 L1148.56 1471.82 L1151.66 1471.7 L1154.76 1471.28 L1157.86 1471.3 L1160.91 1470.72 L1163.89 1470.51 L1166.76 1470.45 L1169.5 1470.13 L1171.78 1470.02 L1174.4 1469.77 L1177.29 1470.18 L1180.4 1469.85 L1183.67 1469.77 L1187.03 1469.14 L1190.43 1469.19 L1193.8 1468.93 L1197.09 1468.63 L1200.24 1468.49 L1203.18 1468.53 L1205.86 1468.18 L1208.22 1468.05 L1210.2 1468.38 L1213.71 1468.23 L1217.15 1468.22 L1220.46 1468.07 L1223.59 1467.12 L1226.47 1466.94 L1229.06 1467.58 L1231.3 1466.8 L1234.31 1466.2 L1237.47 1465.96 L1240.6 1465.6 L1243.51 1465.35 L1246 1464.01 L1249.04 1463.32 L1252.42 1461.82 L1255.84 1461.53 L1259 1460.01 L1261.78 1459.03 L1265.18 1458.38 L1268.82 1456.9 L1272.32 1456.12 L1275.3 1454.61 L1278.23 1453.88 L1281.63 1452.87 L1285.17 1451.3 L1288.57 1450.38 L1291.5 1449.8 L1294.44 1448.76 L1297.86 1448.4 L1301.43 1447.94 L1304.85 1446.83 L1307.8 1446.44 L1310.75 1446.47 L1314.18 1445.96 L1317.76 1446.14 L1321.17 1445.31 L1324.1 1445.1 L1327.06 1445.53 L1330.51 1445.18 L1334.08 1446.07 L1337.37 1445.42 L1340 1445.7 L1342.36 1445.44 L1344.53 1444.9 L1347.22 1444.56 L1351.2 1444.32 L1353.16 1444.32 L1355.71 1444.37 L1358.74 1444.16 L1362.14 1444.09 L1365.78 1444.64 L1369.57 1444.45 L1373.36 1444.06 L1377.07 1444.48 L1380.56 1443.88 L1383.72 1443.93 L1386.44 1443.95 L1388.6 1444.77 L1392.12 1445.01 L1395.36 1445.08 L1398.36 1446.38 L1401.19 1446.69 L1403.88 1448.38 L1406.5 1448 L1408.95 1448.48 L1411.78 1448.35 L1414.87 1449.01 L1418.11 1448.97 L1421.39 1450.4 L1424.59 1450.67 L1427.6 1450.84 L1429.9 1449.92 L1432.69 1450.14 L1435.83 1450.9 L1439.19 1450.59 L1442.65 1451.68 L1446.09 1451.32 L1449.35 1452.35 L1452.33 1452.62 L1454.89 1452.55 L1456.9 1453.02 L1460.85 1453.85 L1464.3 1454.22 L1467.29 1455.24 L1469.9 1455.5 L1472.47 1455.85 L1475.28 1457.34 L1478.24 1458.26 L1481.3 1458.03 L1483.85 1458.41 L1487.15 1457.86 L1490.84 1458.16 L1494.59 1458.25 L1498.02 1458.67 L1500.8 1458.21 L1504.01 1458.09 L1507.68 1458.13 L1511.3 1457.95 L1514.34 1458.21 L1516.3 1457.9 L1520.6 1473.3 Z" fill="#626f6f"/>
<path d="M1516.3 1458.5 L1520.1 1472.7 L1516.3 1472.7 Z" fill="#7d8a8a" stroke="none"/>
<path d="M1515.6 1458.5 V1472.7" stroke="#454848" stroke-width="1.6" fill="none"/>
<path d="M1516.3 1457.9 L1520.6 1473.3" fill="none" stroke-width="1.15"/>
<path d="M1096 1473.3 L1097.46 1473.28 L1099.47 1473.25 L1101.93 1473.23 L1104.78 1473.2 L1107.93 1473.16 L1111.3 1473.12 L1114.82 1473.08 L1118.41 1473.03 L1121.98 1472.97 L1125.46 1472.91 L1128.77 1472.84 L1131.83 1472.77 L1134.57 1472.69 L1136.9 1472.6 L1139.65 1472.46 L1142.53 1472.28 L1145.51 1472.06 L1148.56 1471.82 L1151.66 1471.55 L1154.76 1471.28 L1157.86 1471.01 L1160.91 1470.75 L1163.89 1470.51 L1166.76 1470.29 L1169.5 1470.1 L1171.78 1469.96 L1174.4 1469.82 L1177.29 1469.66 L1180.4 1469.5 L1183.67 1469.33 L1187.03 1469.17 L1190.43 1469 L1193.8 1468.83 L1197.09 1468.67 L1200.24 1468.52 L1203.18 1468.37 L1205.86 1468.24 L1208.22 1468.11 L1210.2 1468 L1213.71 1467.8 L1217.15 1467.6 L1220.46 1467.39 L1223.59 1467.19 L1226.47 1466.97 L1229.06 1466.74 L1231.3 1466.5 L1234.31 1466.06 L1237.47 1465.48 L1240.6 1464.83 L1243.51 1464.18 L1246 1463.6 L1249.04 1462.84 L1252.42 1461.92 L1255.84 1460.94 L1259 1460 L1261.78 1459.13 L1265.18 1458.02 L1268.82 1456.83 L1272.32 1455.67 L1275.3 1454.7 L1278.23 1453.73 L1281.63 1452.58 L1285.17 1451.4 L1288.57 1450.33 L1291.5 1449.5 L1294.44 1448.82 L1297.86 1448.14 L1301.43 1447.49 L1304.85 1446.93 L1307.8 1446.5 L1310.75 1446.16 L1314.18 1445.83 L1317.76 1445.55 L1321.17 1445.33 L1324.1 1445.2 L1327.06 1445.19 L1330.51 1445.28 L1334.08 1445.4 L1337.37 1445.5 L1340 1445.5 L1342.36 1445.31 L1344.53 1444.98 L1347.22 1444.64 L1351.2 1444.4 L1353.16 1444.35 L1355.71 1444.28 L1358.74 1444.21 L1362.14 1444.14 L1365.78 1444.07 L1369.57 1444.01 L1373.36 1443.96 L1377.07 1443.93 L1380.56 1443.93 L1383.72 1443.95 L1386.44 1444.01 L1388.6 1444.1 L1392.12 1444.48 L1395.36 1445.09 L1398.36 1445.84 L1401.19 1446.6 L1403.88 1447.29 L1406.5 1447.8 L1408.95 1448.12 L1411.78 1448.43 L1414.87 1448.72 L1418.11 1449.01 L1421.39 1449.28 L1424.59 1449.54 L1427.6 1449.8 L1429.9 1449.99 L1432.69 1450.21 L1435.83 1450.44 L1439.19 1450.69 L1442.65 1450.95 L1446.09 1451.21 L1449.35 1451.47 L1452.33 1451.73 L1454.89 1451.97 L1456.9 1452.2 L1460.85 1452.87 L1464.3 1453.7 L1467.29 1454.53 L1469.9 1455.2 L1472.47 1455.82 L1475.28 1456.52 L1478.24 1457.16 L1481.3 1457.6 L1483.85 1457.78 L1487.15 1457.92 L1490.84 1458.04 L1494.59 1458.12 L1498.02 1458.17 L1500.8 1458.2 L1504.01 1458.19 L1507.68 1458.12 L1511.3 1458.03 L1514.34 1457.95 L1516.3 1457.9" fill="none" stroke-width="0.9"/>
<path d="M1040 1473.3 H1520.6" fill="none" stroke-width="1.25"/>
<path d="M1022 1571.5 L1104.4 1571.5 L1105.84 1571.45 L1107.79 1571.39 L1110.18 1571.3 L1112.94 1571.22 L1116 1571.12 L1119.28 1570.98 L1122.72 1570.86 L1126.23 1570.77 L1129.76 1570.59 L1133.23 1570.53 L1136.57 1570.37 L1139.71 1570.15 L1142.58 1570.21 L1145.1 1569.88 L1147.58 1569.78 L1150.32 1569.62 L1153.27 1569.38 L1156.4 1569.13 L1159.64 1569.01 L1162.94 1568.59 L1166.26 1568.32 L1169.55 1568.03 L1172.76 1568 L1175.83 1568.08 L1178.72 1567.55 L1181.38 1567.12 L1183.76 1567.09 L1185.8 1567.11 L1189.09 1567.28 L1192.42 1566.91 L1195.74 1566.71 L1198.98 1566.65 L1202.1 1567.33 L1205.05 1566.64 L1207.77 1566.63 L1210.2 1566.76 L1213.03 1566.63 L1216.2 1566.34 L1219.55 1565.98 L1222.9 1565.78 L1226.09 1565.52 L1228.95 1565.83 L1231.3 1565.55 L1234.31 1565.44 L1237.47 1563.9 L1240.6 1563.31 L1243.51 1562.89 L1246 1562.42 L1249.04 1561.62 L1252.42 1560.11 L1255.84 1559.97 L1259 1558.25 L1261.78 1556.94 L1265.18 1556.42 L1268.82 1554.69 L1272.32 1554.04 L1275.3 1553.48 L1278.23 1551.39 L1281.63 1550.19 L1285.17 1549.61 L1288.57 1548.81 L1291.5 1547.54 L1294.44 1547.13 L1297.86 1546.01 L1301.43 1546.35 L1304.85 1544.83 L1307.8 1545.17 L1310.75 1544.14 L1314.18 1544.07 L1317.76 1544.35 L1321.17 1543.72 L1324.1 1544.82 L1327.06 1543.64 L1330.51 1543.65 L1334.08 1544.76 L1337.37 1543.83 L1340 1544.38 L1342.76 1544.17 L1345.59 1543.71 L1348.42 1543.64 L1351.2 1543.51 L1353.83 1543.08 L1357.11 1542.7 L1360.69 1542.79 L1364.23 1542.18 L1367.4 1542.27 L1369.7 1542.56 L1372.42 1541.79 L1375.41 1541.79 L1378.51 1541.77 L1381.58 1542.13 L1384.46 1542.44 L1387 1542.58 L1389.59 1542.52 L1392.61 1543.27 L1395.88 1543.97 L1399.23 1545.26 L1402.5 1545.08 L1405.51 1545.32 L1408.1 1546.16 L1411.02 1547.12 L1414.26 1546.96 L1417.68 1547.6 L1421.15 1546.84 L1424.5 1547.22 L1427.6 1547.52 L1430.06 1547.67 L1432.97 1547.9 L1436.18 1548.74 L1439.55 1549.43 L1442.96 1548.86 L1446.27 1549.67 L1449.32 1549.95 L1452 1550.57 L1454.73 1550.79 L1457.92 1551.35 L1461.38 1551.67 L1464.93 1551.74 L1468.39 1552.65 L1471.58 1552.88 L1474.31 1553.37 L1476.4 1553.61 L1480.24 1554.13 L1483.23 1554.93 L1486.2 1554.64 L1488.58 1554.78 L1491.59 1554.99 L1494.86 1555.23 L1498.05 1556.05 L1500.8 1555.49 L1503.75 1556.39 L1507.39 1555.2 L1511.11 1555.2 L1514.28 1555.42 L1516.3 1554.7 L1520.6 1571.5 Z" fill="#626f6f"/>
<path d="M1516.3 1555.3 L1520.1 1570.9 L1516.3 1570.9 Z" fill="#7d8a8a" stroke="none"/>
<path d="M1515.6 1555.3 V1570.9" stroke="#454848" stroke-width="1.6" fill="none"/>
<path d="M1516.3 1554.7 L1520.6 1571.5" fill="none" stroke-width="1.15"/>
<path d="M1104.4 1571.5 L1105.84 1571.45 L1107.79 1571.38 L1110.18 1571.29 L1112.94 1571.2 L1116 1571.09 L1119.28 1570.97 L1122.72 1570.85 L1126.23 1570.72 L1129.76 1570.59 L1133.23 1570.45 L1136.57 1570.31 L1139.71 1570.17 L1142.58 1570.03 L1145.1 1569.9 L1147.58 1569.75 L1150.32 1569.56 L1153.27 1569.35 L1156.4 1569.11 L1159.64 1568.86 L1162.94 1568.6 L1166.26 1568.34 L1169.55 1568.07 L1172.76 1567.82 L1175.83 1567.58 L1178.72 1567.36 L1181.38 1567.17 L1183.76 1567.02 L1185.8 1566.9 L1189.09 1566.77 L1192.42 1566.7 L1195.74 1566.68 L1198.98 1566.68 L1202.1 1566.69 L1205.05 1566.69 L1207.77 1566.67 L1210.2 1566.6 L1213.03 1566.46 L1216.2 1566.28 L1219.55 1566.05 L1222.9 1565.8 L1226.09 1565.54 L1228.95 1565.26 L1231.3 1565 L1234.31 1564.56 L1237.47 1563.99 L1240.6 1563.35 L1243.51 1562.7 L1246 1562.1 L1249.04 1561.25 L1252.42 1560.19 L1255.84 1559.06 L1259 1558 L1261.78 1557.04 L1265.18 1555.84 L1268.82 1554.54 L1272.32 1553.31 L1275.3 1552.3 L1278.23 1551.35 L1281.63 1550.26 L1285.17 1549.17 L1288.57 1548.17 L1291.5 1547.4 L1294.44 1546.75 L1297.86 1546.07 L1301.43 1545.43 L1304.85 1544.89 L1307.8 1544.5 L1310.75 1544.24 L1314.18 1544.03 L1317.76 1543.87 L1321.17 1543.77 L1324.1 1543.7 L1327.06 1543.7 L1330.51 1543.75 L1334.08 1543.83 L1337.37 1543.89 L1340 1543.9 L1342.76 1543.82 L1345.59 1543.67 L1348.42 1543.49 L1351.2 1543.3 L1353.83 1543.08 L1357.11 1542.78 L1360.69 1542.45 L1364.23 1542.17 L1367.4 1542 L1369.7 1541.94 L1372.42 1541.89 L1375.41 1541.86 L1378.51 1541.86 L1381.58 1541.91 L1384.46 1542.02 L1387 1542.2 L1389.59 1542.52 L1392.61 1543.01 L1395.88 1543.61 L1399.23 1544.25 L1402.5 1544.87 L1405.51 1545.41 L1408.1 1545.8 L1411.02 1546.12 L1414.26 1546.4 L1417.68 1546.65 L1421.15 1546.9 L1424.5 1547.14 L1427.6 1547.4 L1430.06 1547.63 L1432.97 1547.9 L1436.18 1548.21 L1439.55 1548.54 L1442.96 1548.89 L1446.27 1549.24 L1449.32 1549.58 L1452 1549.9 L1454.73 1550.27 L1457.92 1550.74 L1461.38 1551.27 L1464.93 1551.82 L1468.39 1552.37 L1471.58 1552.87 L1474.31 1553.29 L1476.4 1553.6 L1480.24 1554.11 L1483.23 1554.44 L1486.2 1554.7 L1488.58 1554.88 L1491.59 1555.09 L1494.86 1555.29 L1498.05 1555.44 L1500.8 1555.5 L1503.75 1555.43 L1507.39 1555.25 L1511.11 1555.03 L1514.28 1554.82 L1516.3 1554.7" fill="none" stroke-width="0.9"/>
<path d="M1022 1571.5 H1520.6" fill="none" stroke-width="1.25"/>
<path d="M1065 1669.7 L1117.4 1669.7 L1119.06 1669.64 L1121.46 1669.57 L1124.44 1669.48 L1127.83 1669.38 L1131.46 1669.27 L1135.17 1669.12 L1138.79 1669 L1142.16 1668.86 L1145.1 1668.82 L1147.47 1668.59 L1150.16 1668.44 L1153.1 1668.27 L1156.22 1668.06 L1159.46 1667.74 L1162.75 1667.62 L1166.02 1667.31 L1169.21 1667.11 L1172.25 1667.21 L1175.07 1666.74 L1177.6 1666.6 L1180.16 1666.66 L1183.05 1666.72 L1186.18 1666.59 L1189.48 1666.45 L1192.86 1666.17 L1196.23 1666.12 L1199.53 1666.22 L1202.65 1666.03 L1205.53 1666.25 L1208.07 1665.84 L1210.2 1665.82 L1213.73 1666.02 L1217.28 1665.48 L1220.77 1665.69 L1224.07 1665.13 L1227.08 1665.24 L1229.7 1664.72 L1232.85 1664.66 L1236.37 1663.82 L1239.95 1663.72 L1243.26 1662.96 L1246 1662.52 L1249.13 1662.95 L1252.5 1661.09 L1255.87 1660.23 L1259 1659.15 L1261.78 1658.01 L1265.18 1656.83 L1268.82 1655.54 L1272.32 1654.98 L1275.3 1653.2 L1278.32 1653.19 L1281.88 1651.09 L1285.55 1650.85 L1288.9 1648.71 L1291.5 1648.35 L1294.86 1646.27 L1298.08 1645.36 L1301.3 1645.02 L1303.71 1644.93 L1306.78 1643.74 L1310.11 1644.27 L1313.28 1642.83 L1315.9 1642.83 L1319.03 1642.47 L1322.58 1642.35 L1326.03 1642.56 L1328.9 1641.84 L1331.6 1641.84 L1334.62 1642.9 L1337.56 1642.39 L1340 1642.43 L1342.77 1641.82 L1345.83 1641.35 L1349.5 1640.9 L1351.64 1641.95 L1354.43 1640.9 L1357.65 1641.22 L1361.09 1640.67 L1364.55 1640.33 L1367.83 1640.59 L1370.7 1640.67 L1373.18 1640.72 L1376.01 1640.99 L1379.09 1640.64 L1382.34 1640.08 L1385.65 1640.08 L1388.94 1640.67 L1392.12 1640.37 L1395.1 1640.8 L1397.37 1640.84 L1400 1640.93 L1402.91 1640.58 L1406.03 1641.49 L1409.28 1641.4 L1412.6 1642.06 L1415.91 1641.28 L1419.14 1642.31 L1422.21 1642.23 L1425.06 1641.99 L1427.6 1643.1 L1430.18 1642.48 L1433.12 1643.01 L1436.32 1644.09 L1439.7 1643.5 L1443.15 1643.79 L1446.58 1644.17 L1449.91 1645.05 L1453.03 1644.94 L1455.84 1645.3 L1458.27 1645.83 L1460.2 1646.09 L1464.25 1647.49 L1467.52 1648.07 L1470.38 1648.72 L1473.2 1649.37 L1475.98 1649.57 L1479.38 1650.33 L1483.02 1650.27 L1486.52 1651.62 L1489.5 1651.09 L1492.56 1651.77 L1496.2 1650.86 L1499.94 1651.5 L1503.27 1650.7 L1505.7 1651.41 L1509.56 1650.14 L1512.2 1650.11 L1516.3 1650.9 L1520.6 1669.7 Z" fill="#626f6f"/>
<path d="M1516.3 1651.5 L1520.1 1669.1 L1516.3 1669.1 Z" fill="#7d8a8a" stroke="none"/>
<path d="M1515.6 1651.5 V1669.1" stroke="#454848" stroke-width="1.6" fill="none"/>
<path d="M1516.3 1650.9 L1520.6 1669.7" fill="none" stroke-width="1.15"/>
<path d="M1117.4 1669.7 L1119.06 1669.64 L1121.46 1669.57 L1124.44 1669.47 L1127.83 1669.36 L1131.46 1669.24 L1135.17 1669.11 L1138.79 1668.98 L1142.16 1668.84 L1145.1 1668.7 L1147.47 1668.57 L1150.16 1668.4 L1153.1 1668.2 L1156.22 1667.98 L1159.46 1667.76 L1162.75 1667.52 L1166.02 1667.3 L1169.21 1667.08 L1172.25 1666.89 L1175.07 1666.73 L1177.6 1666.6 L1180.16 1666.5 L1183.05 1666.41 L1186.18 1666.33 L1189.48 1666.26 L1192.86 1666.19 L1196.23 1666.13 L1199.53 1666.07 L1202.65 1666 L1205.53 1665.94 L1208.07 1665.87 L1210.2 1665.8 L1213.73 1665.64 L1217.28 1665.43 L1220.77 1665.2 L1224.07 1664.96 L1227.08 1664.72 L1229.7 1664.5 L1232.85 1664.21 L1236.37 1663.86 L1239.95 1663.46 L1243.26 1663.04 L1246 1662.6 L1249.13 1661.9 L1252.5 1660.99 L1255.87 1659.98 L1259 1659 L1261.78 1658.08 L1265.18 1656.9 L1268.82 1655.61 L1272.32 1654.36 L1275.3 1653.3 L1278.32 1652.24 L1281.88 1650.98 L1285.55 1649.69 L1288.9 1648.51 L1291.5 1647.6 L1294.86 1646.36 L1298.08 1645.18 L1301.3 1644.3 L1303.71 1643.91 L1306.78 1643.55 L1310.11 1643.21 L1313.28 1642.93 L1315.9 1642.7 L1319.03 1642.45 L1322.58 1642.2 L1326.03 1642.01 L1328.9 1641.9 L1331.6 1641.94 L1334.62 1642.08 L1337.56 1642.2 L1340 1642.2 L1342.77 1641.86 L1345.83 1641.32 L1349.5 1640.9 L1351.64 1640.79 L1354.43 1640.68 L1357.65 1640.58 L1361.09 1640.49 L1364.55 1640.41 L1367.83 1640.35 L1370.7 1640.3 L1373.18 1640.27 L1376.01 1640.23 L1379.09 1640.2 L1382.34 1640.17 L1385.65 1640.17 L1388.94 1640.18 L1392.12 1640.22 L1395.1 1640.3 L1397.37 1640.38 L1400 1640.5 L1402.91 1640.63 L1406.03 1640.79 L1409.28 1640.97 L1412.6 1641.16 L1415.91 1641.36 L1419.14 1641.57 L1422.21 1641.78 L1425.06 1641.99 L1427.6 1642.2 L1430.18 1642.44 L1433.12 1642.73 L1436.32 1643.07 L1439.7 1643.45 L1443.15 1643.84 L1446.58 1644.24 L1449.91 1644.64 L1453.03 1645.03 L1455.84 1645.39 L1458.27 1645.72 L1460.2 1646 L1464.25 1646.78 L1467.52 1647.65 L1470.38 1648.47 L1473.2 1649.1 L1475.98 1649.52 L1479.38 1649.95 L1483.02 1650.36 L1486.52 1650.69 L1489.5 1650.9 L1492.56 1650.97 L1496.2 1650.96 L1499.94 1650.89 L1503.27 1650.79 L1505.7 1650.7 L1509.56 1650.24 L1512.2 1649.9 L1516.3 1650.9" fill="none" stroke-width="0.9"/>
<path d="M1065 1669.7 H1520.6" fill="none" stroke-width="1.25"/>
</g>
<g id="grid" stroke="#000" stroke-width="2" fill="none">
<path d="M159.05 1.7 V1767.9"/>
<path d="M334.08 1.7 V1767.9"/>
<path d="M509.11 1.7 V1767.9"/>
<path d="M684.15 1.7 V1767.9"/>
<path d="M859.18 1.7 V1767.9"/>
<path d="M1034.21 1.7 V1767.9"/>
<path d="M1209.24 1.7 V1767.9"/>
<path d="M1384.27 1.7 V1767.9"/>
<path d="M1559.31 1.7 V1767.9"/>
</g>
<g id="labels" text-anchor="middle">
<rect x="929.75" y="45.9" width="209.5" height="47.3" fill="#fff"/>
<text x="1034.5" y="83.5">TB1-Top</text>
<rect x="929.75" y="144.1" width="209.5" height="47.3" fill="#fff"/>
<text x="1034.5" y="181.7">TB1-Bottom</text>
<rect x="54.67" y="242.38" width="208.75" height="47.05" fill="#fff" stroke="#000" stroke-width="3.75"/>
<text x="159.2" y="280.2">TB2-Top</text>
<rect x="54.67" y="340.27" width="208.75" height="46.75" fill="#fff" stroke="#000" stroke-width="3.75"/>
<text x="159.2" y="377.8">TB2-Bottom</text>
<rect x="929.75" y="437.7" width="209.5" height="47.3" fill="#fff"/>
<text x="1034.5" y="475.3">TB3-Top</text>
<rect x="929.75" y="536.3" width="209.5" height="47.3" fill="#fff"/>
<text x="1034.5" y="573.9">TB3-Bottom</text>
<rect x="930.08" y="633.48" width="208.65" height="46.65" fill="#fff" stroke="#000" stroke-width="3.75"/>
<text x="1034.5" y="670.9">TB4-Top</text>
<rect x="930.08" y="730.27" width="208.65" height="47.05" fill="#fff" stroke="#000" stroke-width="3.75"/>
<text x="1034.5" y="768.1">TB4-Bottom</text>
<rect x="929.75" y="827.45" width="209.5" height="47.3" fill="#fff"/>
<text x="1034.5" y="865.05">TB5-Top</text>
<rect x="929.75" y="922.25" width="209.5" height="47.3" fill="#fff"/>
<text x="1034.5" y="959.85">TB5-Bottom</text>
<rect x="930.08" y="1027.67" width="208.75" height="46.75" fill="#fff" stroke="#000" stroke-width="3.75"/>
<text x="1034.5" y="1065.2">TB6-Top</text>
<rect x="930.08" y="1124.58" width="208.75" height="46.75" fill="#fff" stroke="#000" stroke-width="3.75"/>
<text x="1034.5" y="1162.1">TB6-Bottom</text>
<rect x="929.75" y="1213.7" width="209.5" height="47.3" fill="#fff"/>
<text x="1034.5" y="1251.3">TB7-Top</text>
<rect x="929.75" y="1321.6" width="209.5" height="47.3" fill="#fff"/>
<text x="1034.5" y="1359.2">TB8-Top1</text>
<rect x="929.75" y="1420" width="209.5" height="47.3" fill="#fff"/>
<text x="1034.5" y="1457.6">TB8-Bottom1</text>
<rect x="929.75" y="1516.6" width="209.5" height="47.3" fill="#fff"/>
<text x="1034.5" y="1554.2">TB8-Top2</text>
<rect x="929.75" y="1615.5" width="209.5" height="47.3" fill="#fff"/>
<text x="1034.5" y="1653.1">TB8-Bottom2</text>
</g>
<g id="ranges" stroke="#000" stroke-width="3.8" fill="none" stroke-linejoin="round">
<path d="M1248.5 117.5 V123.8 H1517.95 V117.5"/>
<path d="M1181.6 215.6 V221.9 H1517.95 V215.6"/>
<path d="M360.5 313.7 V320 H697.45 V313.7"/>
<path d="M336.1 411.8 V418.1 H674.95 V411.8"/>
<path d="M1241.5 510 V516.3 H1517.95 V510"/>
<path d="M1242.3 608.4 V614.7 H1517.95 V608.4"/>
<path d="M1189.1 706.5 V712.8 H1517.95 V706.5"/>
<path d="M1193 804.5 V810.8 H1517.95 V804.5"/>
<path d="M1155.5 902.65 V908.95 H1509.25 V902.65"/>
<path d="M1126.6 1000.9 V1007.2 H1486.95 V1000.9"/>
<path d="M1206.9 1098.8 V1105.1 H1213 V1098.8"/>
<path d="M1218.1 1098.8 V1105.1 H1518.15 V1098.8"/>
<path d="M1194.6 1197 V1203.3 H1518.15 V1197"/>
<path d="M1113.7 1295 V1301.3 H1471.85 V1295"/>
<path d="M1248.3 1393.2 V1399.5 H1518.15 V1393.2"/>
<path d="M1211.7 1491.3 V1497.6 H1518.15 V1491.3"/>
<path d="M1210.9 1589.5 V1595.8 H1518.15 V1589.5"/>
<path d="M1228.8 1687.7 V1694 H1518.15 V1687.7"/>
</g>
<g id="axis" stroke="#000" fill="none">
<path d="M19.02 1758.2 V1767.9M36.53 1758.2 V1767.9M54.03 1758.2 V1767.9M71.53 1758.2 V1767.9M89.04 1758.2 V1767.9M106.54 1758.2 V1767.9M124.04 1758.2 V1767.9M141.55 1758.2 V1767.9M176.55 1758.2 V1767.9M194.06 1758.2 V1767.9M211.56 1758.2 V1767.9M229.06 1758.2 V1767.9M246.57 1758.2 V1767.9M264.07 1758.2 V1767.9M281.57 1758.2 V1767.9M299.08 1758.2 V1767.9M316.58 1758.2 V1767.9M351.59 1758.2 V1767.9M369.09 1758.2 V1767.9M386.59 1758.2 V1767.9M404.09 1758.2 V1767.9M421.6 1758.2 V1767.9M439.1 1758.2 V1767.9M456.6 1758.2 V1767.9M474.11 1758.2 V1767.9M491.61 1758.2 V1767.9M526.62 1758.2 V1767.9M544.12 1758.2 V1767.9M561.62 1758.2 V1767.9M579.13 1758.2 V1767.9M596.63 1758.2 V1767.9M614.13 1758.2 V1767.9M631.64 1758.2 V1767.9M649.14 1758.2 V1767.9M666.64 1758.2 V1767.9M701.65 1758.2 V1767.9M719.15 1758.2 V1767.9M736.66 1758.2 V1767.9M754.16 1758.2 V1767.9M771.66 1758.2 V1767.9M789.17 1758.2 V1767.9M806.67 1758.2 V1767.9M824.17 1758.2 V1767.9M841.67 1758.2 V1767.9M876.68 1758.2 V1767.9M894.18 1758.2 V1767.9M911.69 1758.2 V1767.9M929.19 1758.2 V1767.9M946.69 1758.2 V1767.9M964.2 1758.2 V1767.9M981.7 1758.2 V1767.9M999.2 1758.2 V1767.9M1016.71 1758.2 V1767.9M1051.71 1758.2 V1767.9M1069.22 1758.2 V1767.9M1086.72 1758.2 V1767.9M1104.22 1758.2 V1767.9M1121.73 1758.2 V1767.9M1139.23 1758.2 V1767.9M1156.73 1758.2 V1767.9M1174.24 1758.2 V1767.9M1191.74 1758.2 V1767.9M1226.75 1758.2 V1767.9M1244.25 1758.2 V1767.9M1261.75 1758.2 V1767.9M1279.25 1758.2 V1767.9M1296.76 1758.2 V1767.9M1314.26 1758.2 V1767.9M1331.76 1758.2 V1767.9M1349.27 1758.2 V1767.9M1366.77 1758.2 V1767.9M1401.78 1758.2 V1767.9M1419.28 1758.2 V1767.9M1436.78 1758.2 V1767.9M1454.29 1758.2 V1767.9M1471.79 1758.2 V1767.9M1489.29 1758.2 V1767.9M1506.8 1758.2 V1767.9M1524.3 1758.2 V1767.9M1541.8 1758.2 V1767.9M1576.81 1758.2 V1767.9" stroke-width="2"/>
<path d="M159.05 1749 V1767.9M334.08 1749 V1767.9M509.11 1749 V1767.9M684.15 1749 V1767.9M859.18 1749 V1767.9M1034.21 1749 V1767.9M1209.24 1749 V1767.9M1384.27 1749 V1767.9M1559.31 1749 V1767.9" stroke-width="3.7"/>
<rect x="1.9" y="1.7" width="1577.1" height="1766.2" stroke-width="3.75"/>
</g>
<g id="marker" fill="#f00014">
<rect x="1354.4" y="1.9" width="6.8" height="19.6"/>
<rect x="1354.4" y="61.51" width="6.8" height="40.3"/>
<rect x="1354.4" y="141.82" width="6.8" height="40.3"/>
<rect x="1354.4" y="222.13" width="6.8" height="40.3"/>
<rect x="1354.4" y="302.44" width="6.8" height="40.3"/>
<rect x="1354.4" y="382.75" width="6.8" height="40.3"/>
<rect x="1354.4" y="463.06" width="6.8" height="40.3"/>
<rect x="1354.4" y="543.37" width="6.8" height="40.3"/>
<rect x="1354.4" y="623.68" width="6.8" height="40.3"/>
<rect x="1354.4" y="703.99" width="6.8" height="40.3"/>
<rect x="1354.4" y="784.3" width="6.8" height="40.3"/>
<rect x="1354.4" y="864.61" width="6.8" height="40.3"/>
<rect x="1354.4" y="944.92" width="6.8" height="40.3"/>
<rect x="1354.4" y="1025.23" width="6.8" height="40.3"/>
<rect x="1354.4" y="1105.54" width="6.8" height="40.3"/>
<rect x="1354.4" y="1185.85" width="6.8" height="40.3"/>
<rect x="1354.4" y="1266.16" width="6.8" height="40.3"/>
<rect x="1354.4" y="1346.47" width="6.8" height="40.3"/>
<rect x="1354.4" y="1426.78" width="6.8" height="40.3"/>
<rect x="1354.4" y="1507.09" width="6.8" height="40.3"/>
<rect x="1354.4" y="1587.4" width="6.8" height="40.3"/>
<rect x="1354.4" y="1667.71" width="6.8" height="40.3"/>
<rect x="1354.4" y="1748.02" width="6.8" height="19.88"/>
</g>
<g id="ticklabels" text-anchor="middle">
<text x="159.05" y="1798.6">400</text>
<text x="334.08" y="1798.6">600</text>
<text x="509.11" y="1798.6">800</text>
<text x="684.15" y="1798.6">1000</text>
<text x="859.18" y="1798.6">1200</text>
<text x="1034.21" y="1798.6">1400</text>
<text x="1209.24" y="1798.6">1600</text>
<text x="1384.27" y="1798.6">1800</text>
<text x="1559.31" y="1798.6">2000</text>
<text x="814.6" y="1871.1">Modeled date (AD)</text>
</g>
</svg></body></html>
